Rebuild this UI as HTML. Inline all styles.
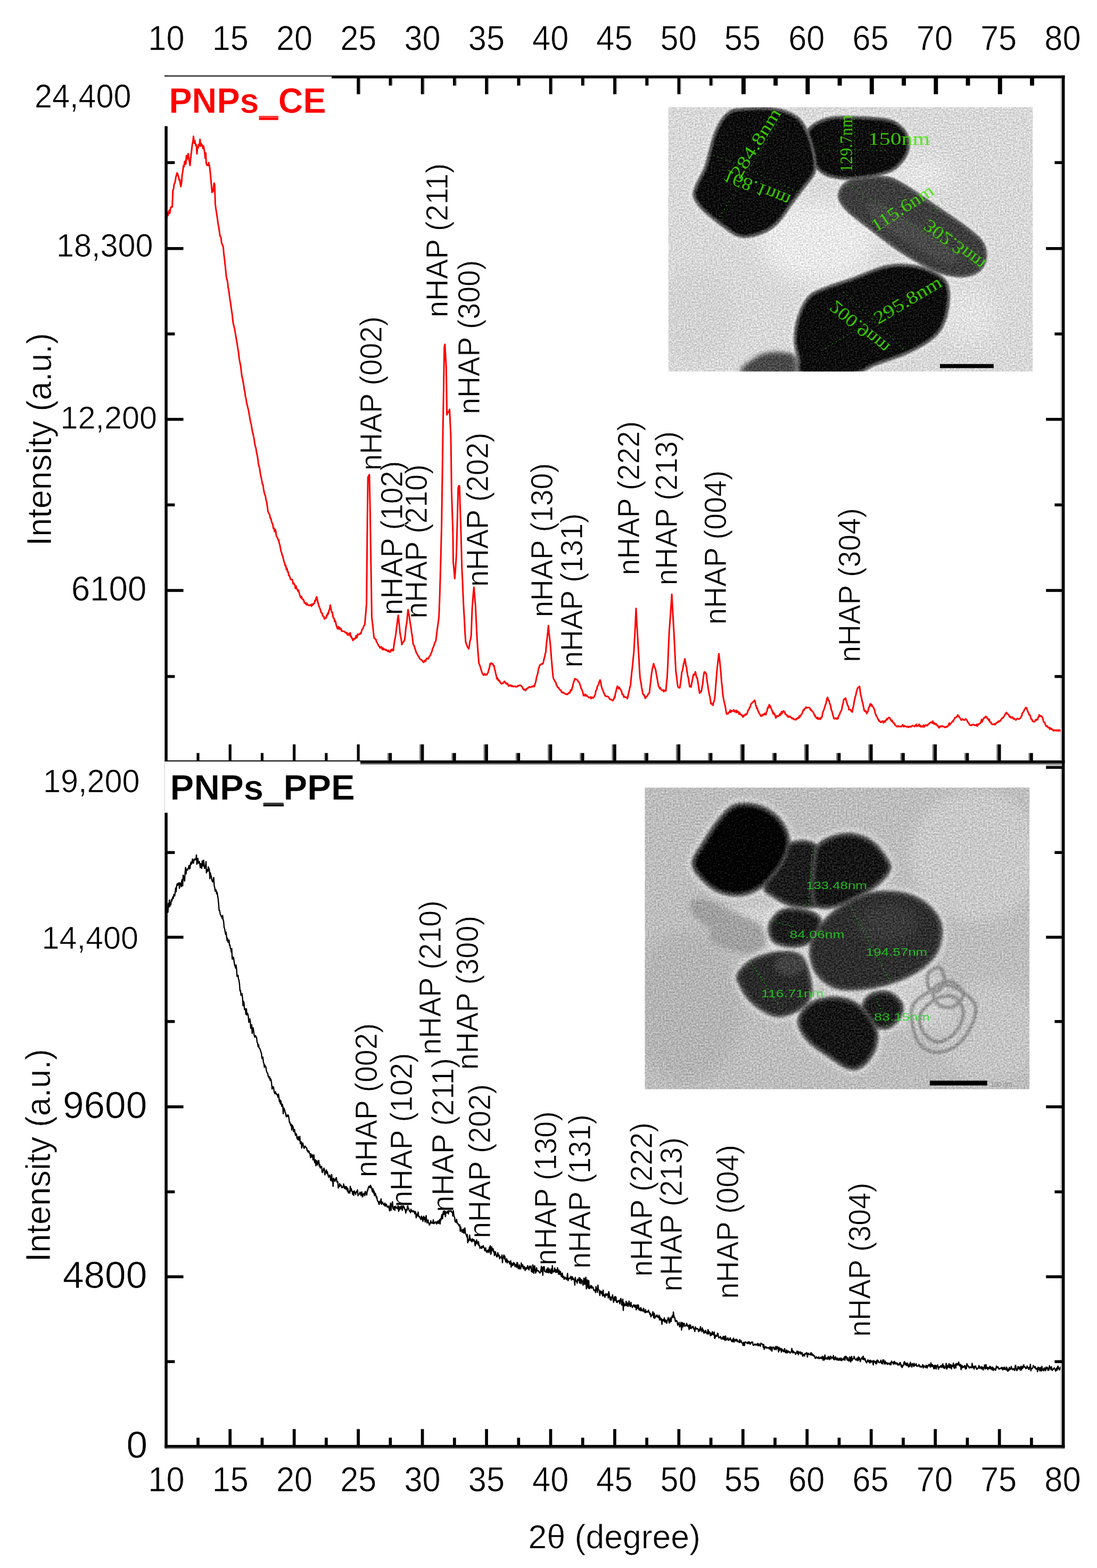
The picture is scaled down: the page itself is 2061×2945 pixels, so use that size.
<!DOCTYPE html>
<html><head><meta charset="utf-8"><title>XRD patterns</title>
<style>html,body{margin:0;padding:0;background:#fff;width:2061px;height:2945px}svg{display:block}</style>
</head><body>
<svg width="2061" height="2945" viewBox="0 0 2061 2945" role="img" aria-label="XRD patterns of PNPs_CE and PNPs_PPE with TEM insets">
<rect width="2061" height="2945" fill="#fff"/>
<defs>
<filter id="b3" x="-20%" y="-20%" width="140%" height="140%"><feGaussianBlur stdDeviation="3"/></filter>
<filter id="b6" x="-20%" y="-20%" width="140%" height="140%"><feGaussianBlur stdDeviation="6"/></filter>
<filter id="b10" x="-30%" y="-30%" width="160%" height="160%"><feGaussianBlur stdDeviation="10"/></filter>
<filter id="b22" x="-40%" y="-40%" width="180%" height="180%"><feGaussianBlur stdDeviation="22"/></filter>
<filter id="b40" x="-60%" y="-60%" width="220%" height="220%"><feGaussianBlur stdDeviation="40"/></filter>
<filter id="grain" x="0" y="0" width="100%" height="100%" color-interpolation-filters="sRGB">
 <feTurbulence type="fractalNoise" baseFrequency="0.15" numOctaves="2" seed="11" result="n"/>
 <feColorMatrix in="n" type="matrix" values="1 0 0 0 0  1 0 0 0 0  1 0 0 0 0  0 0 0 0 1" result="g"/>
 <feComposite in="SourceGraphic" in2="g" operator="arithmetic" k1="0" k2="1" k3="0.40" k4="-0.20"/>
</filter>
<clipPath id="c1"><rect x="35" y="25" width="1528" height="1108"/></clipPath>
<clipPath id="c2"><rect x="35" y="30" width="1528" height="1198"/></clipPath>
</defs>
<g id="tem1" transform="translate(1240 190) scale(0.44805)">
<g clip-path="url(#c1)"><g filter="url(#grain)">
<rect x="-20" y="-20" width="1640" height="1200" fill="#d8d8d8"/>
<ellipse cx="660" cy="590" rx="240" ry="170" fill="#f4f4f4" opacity="0.62" filter="url(#b40)"/>
<ellipse cx="1100" cy="310" rx="110" ry="70" fill="#f0f0f0" opacity="0.6" filter="url(#b40)"/>
<ellipse cx="1300" cy="900" rx="110" ry="120" fill="#ececec" opacity="0.5" filter="url(#b40)"/>
<ellipse cx="150" cy="900" rx="170" ry="200" fill="#d0d0d0" opacity="0.6" filter="url(#b22)"/>
<ellipse cx="1420" cy="200" rx="170" ry="200" fill="#d8d8d8" opacity="0.6" filter="url(#b22)"/>
<path d="M350.0,1140.0 C310.0,1129.2 378.3,1089.7 400.0,1075.0 C421.7,1060.3 450.0,1052.8 480.0,1052.0 C510.0,1051.2 553.3,1055.3 580.0,1070.0 C606.7,1084.7 678.3,1128.3 640.0,1140.0 C601.7,1151.7 390.0,1150.8 350.0,1140.0Z" fill="#4a4a4a" filter="url(#b10)"/>
<path d="M280.0,48.0 C291.7,39.2 291.7,34.0 320.0,30.0 C348.3,26.0 415.3,22.7 450.0,24.0 C484.7,25.3 505.0,30.0 528.0,38.0 C551.0,46.0 572.0,56.7 588.0,72.0 C604.0,87.3 614.2,108.7 624.0,130.0 C633.8,151.3 641.5,177.5 647.0,200.0 C652.5,222.5 657.0,246.3 657.0,265.0 C657.0,283.7 656.2,294.2 647.0,312.0 C637.8,329.8 617.0,352.0 602.0,372.0 C587.0,392.0 573.7,409.5 557.0,432.0 C540.3,454.5 519.8,487.7 502.0,507.0 C484.2,526.3 470.3,537.2 450.0,548.0 C429.7,558.8 401.7,568.8 380.0,572.0 C358.3,575.2 343.3,577.0 320.0,567.0 C296.7,557.0 265.0,531.2 240.0,512.0 C215.0,492.8 187.0,470.7 170.0,452.0 C153.0,433.3 141.7,417.0 138.0,400.0 C134.3,383.0 140.5,370.0 148.0,350.0 C155.5,330.0 173.8,303.3 183.0,280.0 C192.2,256.7 196.3,233.3 203.0,210.0 C209.7,186.7 215.2,161.2 223.0,140.0 C230.8,118.8 240.5,98.3 250.0,83.0 C259.5,67.7 268.3,56.8 280.0,48.0Z" fill="#fff" stroke="#fff" stroke-width="24" opacity="0.3" filter="url(#b10)"/>
<path d="M622.0,112.0 C636.7,93.3 670.3,76.3 700.0,68.0 C729.7,59.7 758.3,61.3 800.0,62.0 C841.7,62.7 914.7,65.3 950.0,72.0 C985.3,78.7 996.3,89.0 1012.0,102.0 C1027.7,115.0 1038.7,131.7 1044.0,150.0 C1049.3,168.3 1049.3,193.0 1044.0,212.0 C1038.7,231.0 1025.7,249.3 1012.0,264.0 C998.3,278.7 989.0,289.7 962.0,300.0 C935.0,310.3 885.3,321.3 850.0,326.0 C814.7,330.7 778.3,331.3 750.0,328.0 C721.7,324.7 699.2,318.2 680.0,306.0 C660.8,293.8 646.3,276.0 635.0,255.0 C623.7,234.0 614.2,203.8 612.0,180.0 C609.8,156.2 607.3,130.7 622.0,112.0Z" fill="#fff" stroke="#fff" stroke-width="24" opacity="0.3" filter="url(#b10)"/>
<path d="M745.0,400.0 C743.3,380.8 755.8,358.3 770.0,345.0 C784.2,331.7 800.0,325.0 830.0,320.0 C860.0,315.0 916.7,310.0 950.0,315.0 C983.3,320.0 996.7,330.8 1030.0,350.0 C1063.3,369.2 1108.3,401.7 1150.0,430.0 C1191.7,458.3 1246.7,495.0 1280.0,520.0 C1313.3,545.0 1334.7,560.0 1350.0,580.0 C1365.3,600.0 1371.2,620.0 1372.0,640.0 C1372.8,660.0 1367.0,684.2 1355.0,700.0 C1343.0,715.8 1322.5,729.2 1300.0,735.0 C1277.5,740.8 1248.3,740.0 1220.0,735.0 C1191.7,730.0 1166.7,722.5 1130.0,705.0 C1093.3,687.5 1041.7,657.5 1000.0,630.0 C958.3,602.5 916.7,568.3 880.0,540.0 C843.3,511.7 802.5,483.3 780.0,460.0 C757.5,436.7 746.7,419.2 745.0,400.0Z" fill="#fff" stroke="#fff" stroke-width="24" opacity="0.3" filter="url(#b10)"/>
<path d="M622.0,815.0 C642.7,794.2 669.8,787.5 700.0,775.0 C730.2,762.5 760.8,754.8 803.0,740.0 C845.2,725.2 906.8,694.7 953.0,686.0 C999.2,677.3 1041.8,680.3 1080.0,688.0 C1118.2,695.7 1159.5,715.0 1182.0,732.0 C1204.5,749.0 1210.3,765.0 1215.0,790.0 C1219.7,815.0 1215.5,854.0 1210.0,882.0 C1204.5,910.0 1195.3,936.7 1182.0,958.0 C1168.7,979.3 1155.3,992.3 1130.0,1010.0 C1104.7,1027.7 1067.8,1047.3 1030.0,1064.0 C992.2,1080.7 940.8,1095.7 903.0,1110.0 C865.2,1124.3 853.5,1143.3 803.0,1150.0 C752.5,1156.7 638.0,1161.7 600.0,1150.0 C562.0,1138.3 581.7,1105.0 575.0,1080.0 C568.3,1055.0 559.8,1030.0 560.0,1000.0 C560.2,970.0 565.7,930.8 576.0,900.0 C586.3,869.2 601.3,835.8 622.0,815.0Z" fill="#fff" stroke="#fff" stroke-width="24" opacity="0.3" filter="url(#b10)"/>
<g filter="url(#b3)"><path d="M751.0,399.5 C749.3,381.7 760.8,361.6 774.1,349.4 C787.4,337.1 801.8,330.7 831.0,325.9 C860.2,321.2 916.4,316.1 949.1,320.9 C981.8,325.8 994.1,336.2 1027.0,355.2 C1059.9,374.2 1105.1,406.7 1146.6,435.0 C1188.2,463.2 1243.3,500.0 1276.4,524.8 C1309.5,549.6 1330.3,564.4 1345.2,583.7 C1360.2,602.9 1365.2,621.5 1366.0,640.2 C1366.8,659.0 1361.5,681.6 1350.2,696.4 C1339.0,711.2 1320.0,723.7 1298.5,729.2 C1277.0,734.6 1248.7,734.0 1221.0,729.1 C1193.4,724.2 1168.9,716.9 1132.6,699.6 C1096.3,682.2 1044.8,652.4 1003.3,625.0 C961.8,597.6 920.2,563.4 883.7,535.3 C847.2,507.1 806.4,478.5 784.3,455.8 C762.2,433.2 752.7,417.2 751.0,399.5Z" fill="#3e3e3e" stroke="#5a5a5a" stroke-width="12" stroke-linejoin="round"/></g>
<path d="M880.0,420.0 C896.7,415.0 955.0,445.0 1000.0,470.0 C1045.0,495.0 1108.3,540.0 1150.0,570.0 C1191.7,600.0 1241.7,631.7 1250.0,650.0 C1258.3,668.3 1233.3,688.3 1200.0,680.0 C1166.7,671.7 1100.0,630.0 1050.0,600.0 C1000.0,570.0 928.3,530.0 900.0,500.0 C871.7,470.0 863.3,425.0 880.0,420.0Z" fill="#555" opacity="0.55" filter="url(#b10)"/>
<g filter="url(#b3)"><path d="M626.7,115.7 C640.7,98.1 672.8,81.7 701.6,73.8 C730.5,65.8 758.7,67.3 799.9,68.0 C841.1,68.7 914.2,71.5 948.9,77.9 C983.6,84.3 993.3,94.3 1008.2,106.6 C1023.1,118.9 1033.2,134.4 1038.2,151.7 C1043.2,169.0 1043.3,192.3 1038.2,210.4 C1033.1,228.4 1020.7,245.9 1007.6,259.9 C994.5,273.9 986.3,284.4 959.9,294.4 C933.5,304.4 884.1,315.4 849.2,320.1 C814.4,324.7 778.4,325.2 750.7,322.0 C723.0,318.9 701.6,312.6 683.2,300.9 C664.8,289.3 651.2,272.4 640.3,252.2 C629.4,231.9 620.2,202.2 618.0,179.5 C615.7,156.7 612.8,133.3 626.7,115.7Z" fill="#0a0a0a" stroke="#555" stroke-width="12" stroke-linejoin="round"/></g>
<g filter="url(#b3)"><path d="M283.6,52.8 C294.6,44.4 293.1,39.7 320.8,35.9 C348.5,32.1 415.6,28.7 449.8,30.0 C484.0,31.3 503.7,35.9 526.0,43.7 C548.4,51.4 568.4,61.5 583.8,76.3 C599.3,91.1 609.0,111.7 618.6,132.5 C628.1,153.4 635.8,179.3 641.2,201.4 C646.6,223.5 650.9,247.0 651.0,265.0 C651.1,283.0 650.6,292.0 641.7,309.3 C632.7,326.5 612.1,348.5 597.2,368.4 C582.3,388.3 568.8,406.0 552.2,428.4 C535.6,450.9 515.1,483.9 497.6,502.9 C480.1,522.0 466.9,532.2 447.2,542.7 C427.4,553.2 399.9,562.9 379.1,566.1 C358.3,569.2 344.9,571.3 322.4,561.5 C299.8,551.7 268.3,526.2 243.7,507.2 C219.0,488.3 191.1,466.0 174.4,448.0 C157.8,429.9 147.3,414.7 143.9,398.7 C140.4,382.8 146.2,371.5 153.6,352.1 C161.1,332.7 179.4,305.6 188.6,282.2 C197.8,258.8 202.1,235.0 208.8,211.6 C215.4,188.3 220.9,163.0 228.6,142.1 C236.3,121.2 245.9,101.0 255.1,86.2 C264.3,71.3 272.7,61.2 283.6,52.8Z" fill="#101010" stroke="#5a5a5a" stroke-width="12" stroke-linejoin="round"/></g>
<g filter="url(#b3)"><path d="M626.3,819.2 C646.4,799.0 672.5,792.8 702.3,780.5 C732.1,768.3 763.0,760.4 805.0,745.7 C847.0,730.9 908.5,700.5 954.1,691.9 C999.7,683.3 1041.4,686.4 1078.8,693.9 C1116.2,701.4 1156.7,720.6 1178.4,736.8 C1200.1,753.0 1204.8,767.1 1209.1,791.1 C1213.4,815.1 1209.5,853.6 1204.1,880.8 C1198.7,908.1 1189.8,934.1 1176.9,954.8 C1164.0,975.5 1151.5,987.8 1126.6,1005.1 C1101.7,1022.4 1065.2,1042.0 1027.6,1058.5 C990.0,1075.1 938.4,1090.1 900.9,1104.4 C863.3,1118.6 852.1,1137.4 802.2,1144.1 C752.4,1150.7 638.7,1155.2 601.8,1144.3 C564.9,1133.3 586.8,1102.5 580.8,1078.5 C574.8,1054.4 565.9,1029.5 566.0,1000.0 C566.1,970.6 571.6,932.0 581.7,901.9 C591.7,871.8 606.2,839.5 626.3,819.2Z" fill="#0b0b0b" stroke="#5a5a5a" stroke-width="12" stroke-linejoin="round"/></g>
</g></g>
<rect x="1174" y="1102" width="225" height="17" fill="#000"/>
<g fill="#40e800" fill-opacity="0.85" stroke="none" font-size="76" font-family="'Liberation Serif', 'Times New Roman', serif">
<text transform="translate(872,182) rotate(0) scale(1,1)" textLength="260" lengthAdjust="spacingAndGlyphs">150nm</text>
<text transform="translate(806,298) rotate(-90) scale(1,1)" textLength="240" lengthAdjust="spacingAndGlyphs">129.7nm</text>
<text transform="translate(335,330) rotate(-58) scale(1,1)" textLength="330" lengthAdjust="spacingAndGlyphs">284.8nm</text>
<text transform="translate(277,285) rotate(22) scale(1,-1)" textLength="297" lengthAdjust="spacingAndGlyphs">168.1nm</text>
<text transform="translate(905,550) rotate(-33) scale(1,1)" textLength="297" lengthAdjust="spacingAndGlyphs">115.6nm</text>
<text transform="translate(1130,492) rotate(37) scale(1,-1)" textLength="300" lengthAdjust="spacingAndGlyphs">302.3nm</text>
<text transform="translate(738,832) rotate(40) scale(1,-1)" textLength="300" lengthAdjust="spacingAndGlyphs">200.9nm</text>
<text transform="translate(915,937) rotate(-31) scale(1,1)" textLength="318" lengthAdjust="spacingAndGlyphs">295.8nm</text>
</g>
<g stroke="#22bb00" stroke-width="3" stroke-dasharray="4 14" fill="none" opacity="0.9">
<line x1="250" y1="485" x2="500" y2="85"/>
<line x1="225" y1="225" x2="580" y2="380"/>
<line x1="690" y1="205" x2="960" y2="205"/>
<line x1="820" y1="330" x2="815" y2="70"/>
<line x1="790" y1="350" x2="1340" y2="700"/>
<line x1="1090" y1="560" x2="1180" y2="420"/>
<line x1="675" y1="1045" x2="1190" y2="740"/>
<line x1="770" y1="800" x2="1020" y2="1040"/>
</g>
</g>
<g id="tem2" transform="translate(1195 1465) scale(0.47293)">
<g clip-path="url(#c2)"><g filter="url(#grain)">
<rect x="-20" y="-20" width="1640" height="1300" fill="#bdbdbd"/>
<ellipse cx="1350" cy="300" rx="260" ry="260" fill="#cbcbcb" opacity="0.9" filter="url(#b22)"/>
<ellipse cx="1400" cy="1000" rx="200" ry="200" fill="#c6c6c6" opacity="0.9" filter="url(#b22)"/>
<ellipse cx="200" cy="900" rx="220" ry="300" fill="#b4b4b4" opacity="0.9" filter="url(#b22)"/>
<ellipse cx="480" cy="580" rx="160" ry="90" fill="#d8d8d8" opacity="0.7" filter="url(#b22)"/>
<ellipse cx="1130" cy="880" rx="110" ry="120" fill="#d4d4d4" opacity="0.7" filter="url(#b22)"/>
<path d="M215.0,490.0 C220.0,478.3 232.5,465.0 260.0,470.0 C287.5,475.0 340.0,501.7 380.0,520.0 C420.0,538.3 476.7,560.0 500.0,580.0 C523.3,600.0 525.0,621.7 520.0,640.0 C515.0,658.3 491.7,683.3 470.0,690.0 C448.3,696.7 418.3,688.3 390.0,680.0 C361.7,671.7 316.7,655.0 300.0,640.0 C283.3,625.0 301.7,606.7 290.0,590.0 C278.3,573.3 242.5,556.7 230.0,540.0 C217.5,523.3 210.0,501.7 215.0,490.0Z" fill="#9a9a9a" opacity="0.85" filter="url(#b10)"/>
<g fill="none" stroke="#7c7c7c" stroke-width="14" opacity="0.7" filter="url(#b3)">
<path d="M1095.0,910.0 C1100.8,880.0 1127.5,865.8 1150.0,850.0 C1172.5,834.2 1203.3,815.0 1230.0,815.0 C1256.7,815.0 1290.0,835.0 1310.0,850.0 C1330.0,865.0 1347.5,881.7 1350.0,905.0 C1352.5,928.3 1339.2,964.2 1325.0,990.0 C1310.8,1015.8 1289.2,1045.0 1265.0,1060.0 C1240.8,1075.0 1205.0,1085.0 1180.0,1080.0 C1155.0,1075.0 1129.2,1058.3 1115.0,1030.0 C1100.8,1001.7 1089.2,940.0 1095.0,910.0Z"/>
<path d="M1160.0,770.0 C1166.7,755.8 1194.2,741.7 1205.0,745.0 C1215.8,748.3 1225.8,774.2 1225.0,790.0 C1224.2,805.8 1210.0,833.3 1200.0,840.0 C1190.0,846.7 1171.7,841.7 1165.0,830.0 C1158.3,818.3 1153.3,784.2 1160.0,770.0Z"/>
<path d="M1130.0,930.0 C1138.3,908.3 1168.3,881.7 1190.0,870.0 C1211.7,858.3 1241.7,851.7 1260.0,860.0 C1278.3,868.3 1298.3,896.7 1300.0,920.0 C1301.7,943.3 1286.7,980.0 1270.0,1000.0 C1253.3,1020.0 1221.7,1040.0 1200.0,1040.0 C1178.3,1040.0 1151.7,1018.3 1140.0,1000.0 C1128.3,981.7 1121.7,951.7 1130.0,930.0Z"/>
<path d="M1180.0,830.0 C1188.3,815.0 1230.0,796.7 1250.0,800.0 C1270.0,803.3 1298.3,833.3 1300.0,850.0 C1301.7,866.7 1276.7,893.3 1260.0,900.0 C1243.3,906.7 1213.3,901.7 1200.0,890.0 C1186.7,878.3 1171.7,845.0 1180.0,830.0Z"/>
</g>
<path d="M220.0,330.0 C220.0,305.0 243.3,278.3 260.0,250.0 C276.7,221.7 300.0,185.0 320.0,160.0 C340.0,135.0 358.3,111.7 380.0,100.0 C401.7,88.3 426.7,88.3 450.0,90.0 C473.3,91.7 498.3,98.3 520.0,110.0 C541.7,121.7 564.7,140.0 580.0,160.0 C595.3,180.0 608.3,206.7 612.0,230.0 C615.7,253.3 610.7,276.7 602.0,300.0 C593.3,323.3 577.0,348.3 560.0,370.0 C543.0,391.7 523.3,414.7 500.0,430.0 C476.7,445.3 448.3,458.7 420.0,462.0 C391.7,465.3 356.7,460.3 330.0,450.0 C303.3,439.7 278.3,420.0 260.0,400.0 C241.7,380.0 220.0,355.0 220.0,330.0Z" fill="#fff" stroke="#fff" stroke-width="30" opacity="0.42" filter="url(#b10)"/>
<path d="M555.0,290.0 C574.2,260.5 594.2,249.7 620.0,243.0 C645.8,236.3 686.7,233.8 710.0,250.0 C733.3,266.2 751.7,306.7 760.0,340.0 C768.3,373.3 766.7,422.5 760.0,450.0 C753.3,477.5 743.3,495.8 720.0,505.0 C696.7,514.2 650.0,511.7 620.0,505.0 C590.0,498.3 559.2,479.2 540.0,465.0 C520.8,450.8 502.5,449.2 505.0,420.0 C507.5,390.8 535.8,319.5 555.0,290.0Z" fill="#fff" stroke="#fff" stroke-width="30" opacity="0.42" filter="url(#b10)"/>
<path d="M715.0,262.0 C728.7,240.3 755.8,228.7 780.0,220.0 C804.2,211.3 833.3,206.7 860.0,210.0 C886.7,213.3 916.7,223.3 940.0,240.0 C963.3,256.7 988.0,290.0 1000.0,310.0 C1012.0,330.0 1018.3,341.7 1012.0,360.0 C1005.7,378.3 980.7,403.3 962.0,420.0 C943.3,436.7 923.7,446.7 900.0,460.0 C876.3,473.3 846.7,491.3 820.0,500.0 C793.3,508.7 760.3,515.3 740.0,512.0 C719.7,508.7 705.0,507.0 698.0,480.0 C691.0,453.0 695.2,386.3 698.0,350.0 C700.8,313.7 701.3,283.7 715.0,262.0Z" fill="#fff" stroke="#fff" stroke-width="30" opacity="0.42" filter="url(#b10)"/>
<path d="M700.0,620.0 C712.0,593.3 733.3,565.0 760.0,540.0 C786.7,515.0 826.7,486.7 860.0,470.0 C893.3,453.3 923.3,443.3 960.0,440.0 C996.7,436.7 1045.0,440.0 1080.0,450.0 C1115.0,460.0 1147.2,478.3 1170.0,500.0 C1192.8,521.7 1211.7,550.0 1217.0,580.0 C1222.3,610.0 1214.8,651.7 1202.0,680.0 C1189.2,708.3 1167.0,729.7 1140.0,750.0 C1113.0,770.3 1076.7,788.3 1040.0,802.0 C1003.3,815.7 960.0,827.0 920.0,832.0 C880.0,837.0 833.3,840.7 800.0,832.0 C766.7,823.3 738.7,802.0 720.0,780.0 C701.3,758.0 691.3,726.7 688.0,700.0 C684.7,673.3 688.0,646.7 700.0,620.0Z" fill="#fff" stroke="#fff" stroke-width="30" opacity="0.42" filter="url(#b10)"/>
<path d="M530.0,560.0 C539.2,543.7 558.3,520.3 580.0,512.0 C601.7,503.7 635.0,505.3 660.0,510.0 C685.0,514.7 718.0,525.0 730.0,540.0 C742.0,555.0 738.7,581.7 732.0,600.0 C725.3,618.3 708.7,638.8 690.0,650.0 C671.3,661.2 643.3,667.0 620.0,667.0 C596.7,667.0 565.8,659.5 550.0,650.0 C534.2,640.5 528.3,625.0 525.0,610.0 C521.7,595.0 520.8,576.3 530.0,560.0Z" fill="#fff" stroke="#fff" stroke-width="30" opacity="0.42" filter="url(#b10)"/>
<path d="M400.0,770.0 C408.3,751.7 433.3,725.0 460.0,710.0 C486.7,695.0 528.3,683.3 560.0,680.0 C591.7,676.7 628.3,676.7 650.0,690.0 C671.7,703.3 681.7,733.3 690.0,760.0 C698.3,786.7 705.0,825.0 700.0,850.0 C695.0,875.0 680.0,894.7 660.0,910.0 C640.0,925.3 603.3,938.7 580.0,942.0 C556.7,945.3 541.7,940.3 520.0,930.0 C498.3,919.7 468.3,898.3 450.0,880.0 C431.7,861.7 418.3,838.3 410.0,820.0 C401.7,801.7 391.7,788.3 400.0,770.0Z" fill="#fff" stroke="#fff" stroke-width="30" opacity="0.42" filter="url(#b10)"/>
<path d="M640.0,960.0 C640.0,935.0 660.0,906.7 680.0,890.0 C700.0,873.3 731.7,863.3 760.0,860.0 C788.3,856.7 823.3,860.0 850.0,870.0 C876.7,880.0 901.3,898.3 920.0,920.0 C938.7,941.7 957.0,973.3 962.0,1000.0 C967.0,1026.7 960.3,1056.3 950.0,1080.0 C939.7,1103.7 918.3,1130.3 900.0,1142.0 C881.7,1153.7 863.3,1157.0 840.0,1150.0 C816.7,1143.0 786.7,1118.3 760.0,1100.0 C733.3,1081.7 700.0,1063.3 680.0,1040.0 C660.0,1016.7 640.0,985.0 640.0,960.0Z" fill="#fff" stroke="#fff" stroke-width="30" opacity="0.42" filter="url(#b10)"/>
<path d="M900.0,880.0 C906.7,865.3 921.7,848.7 940.0,842.0 C958.3,835.3 989.7,832.0 1010.0,840.0 C1030.3,848.0 1055.3,871.7 1062.0,890.0 C1068.7,908.3 1060.3,933.3 1050.0,950.0 C1039.7,966.7 1018.3,985.0 1000.0,990.0 C981.7,995.0 956.7,990.0 940.0,980.0 C923.3,970.0 906.7,946.7 900.0,930.0 C893.3,913.3 893.3,894.7 900.0,880.0Z" fill="#fff" stroke="#fff" stroke-width="30" opacity="0.42" filter="url(#b10)"/>
<g filter="url(#b6)"><path d="M560.9,293.8 C579.2,265.3 597.6,256.1 621.7,249.8 C645.9,243.4 684.1,240.4 706.0,255.8 C727.9,271.1 745.3,309.6 753.2,341.7 C761.1,373.8 759.2,422.2 753.2,448.4 C747.2,474.5 739.4,490.2 717.4,498.5 C695.5,506.8 650.4,504.7 621.5,498.2 C592.6,491.6 562.4,472.3 544.2,459.4 C525.9,446.4 509.2,448.2 512.0,420.6 C514.8,393.0 542.6,322.3 560.9,293.8Z" fill="#1e1e1e" stroke="#484848" stroke-width="14" stroke-linejoin="round"/></g>
<g filter="url(#b6)"><path d="M536.1,563.4 C544.6,548.4 562.1,526.3 582.5,518.5 C602.9,510.8 635.0,512.6 658.7,516.9 C682.4,521.2 713.4,530.9 724.5,544.4 C735.7,557.8 731.8,581.0 725.4,597.6 C719.1,614.2 704.0,633.6 686.4,644.0 C668.8,654.4 642.1,660.0 620.0,660.0 C597.9,660.0 568.3,652.6 553.6,644.0 C538.9,635.4 534.7,621.9 531.8,608.5 C528.9,595.1 527.7,578.4 536.1,563.4Z" fill="#1a1a1a" stroke="#484848" stroke-width="14" stroke-linejoin="round"/></g>
<g filter="url(#b6)"><path d="M406.4,772.9 C414.2,756.1 437.7,730.4 463.4,716.1 C489.2,701.8 530.2,690.3 560.7,687.0 C591.2,683.6 625.9,683.4 646.3,696.0 C666.8,708.5 675.5,736.6 683.3,762.1 C691.1,787.5 697.7,824.9 693.1,848.6 C688.5,872.4 674.8,890.0 655.7,904.4 C636.7,918.9 601.1,931.9 579.0,935.1 C556.9,938.3 543.7,933.7 523.0,923.7 C502.3,913.7 472.7,892.8 454.9,875.1 C437.2,857.3 424.5,834.1 416.4,817.1 C408.3,800.1 398.5,789.7 406.4,772.9Z" fill="#2a2a2a" stroke="#484848" stroke-width="14" stroke-linejoin="round"/></g>
<g filter="url(#b6)"><path d="M906.4,882.9 C912.4,869.8 925.5,854.6 942.4,848.6 C959.2,842.5 988.6,839.2 1007.4,846.5 C1026.3,853.8 1049.3,875.8 1055.4,892.4 C1061.5,909.0 1053.6,931.2 1044.1,946.3 C1034.5,961.5 1014.9,978.6 998.2,983.2 C981.4,987.9 958.9,983.3 943.6,974.0 C928.3,964.7 912.7,942.6 906.5,927.4 C900.3,912.2 900.4,896.0 906.4,882.9Z" fill="#1c1c1c" stroke="#484848" stroke-width="14" stroke-linejoin="round"/></g>
<g filter="url(#b6)"><path d="M720.9,265.7 C733.8,245.1 759.3,234.7 782.4,226.6 C805.4,218.5 833.5,213.8 859.1,216.9 C884.7,220.1 913.5,229.6 935.9,245.7 C958.4,261.8 982.4,294.9 994.0,313.6 C1005.6,332.3 1011.5,340.9 1005.4,357.7 C999.3,374.6 975.5,398.7 957.3,414.8 C939.2,430.8 919.8,440.8 896.6,453.9 C873.3,467.0 843.7,484.8 817.8,493.3 C791.9,501.9 760.0,507.6 741.1,505.1 C722.3,502.6 710.8,504.0 704.8,478.2 C698.8,452.5 702.3,386.0 705.0,350.5 C707.7,315.1 708.0,286.4 720.9,265.7Z" fill="#181818" stroke="#484848" stroke-width="14" stroke-linejoin="round"/></g>
<g filter="url(#b6)"><path d="M706.4,622.9 C718.0,597.2 738.7,569.5 764.8,545.1 C790.9,520.7 830.5,492.6 863.1,476.3 C895.8,459.9 924.8,450.2 960.6,447.0 C996.5,443.7 1044.0,447.0 1078.1,456.7 C1112.2,466.4 1143.2,484.3 1165.2,505.1 C1187.2,525.8 1205.0,552.6 1210.1,581.2 C1215.2,609.9 1208.0,649.9 1195.6,677.1 C1183.2,704.3 1162.1,724.7 1135.8,744.4 C1109.4,764.1 1073.7,782.0 1037.6,795.4 C1001.4,808.9 958.4,820.1 919.1,825.1 C879.8,830.0 834.1,833.5 801.8,825.2 C769.5,817.0 743.1,796.5 725.3,775.5 C707.5,754.5 698.1,724.6 694.9,699.1 C691.8,673.7 694.7,648.5 706.4,622.9Z" fill="#2d2d2d" stroke="#484848" stroke-width="14" stroke-linejoin="round"/></g>
<g filter="url(#b6)"><path d="M647.0,960.0 C646.9,936.7 665.5,910.9 684.5,895.4 C703.5,879.9 733.6,870.1 760.8,867.0 C788.0,863.8 821.9,867.0 847.5,876.6 C873.2,886.2 896.8,903.8 914.7,924.6 C932.6,945.4 950.3,975.9 955.1,1001.3 C959.9,1026.7 953.4,1054.7 943.6,1077.2 C933.8,1099.7 913.2,1125.1 896.2,1136.1 C879.3,1147.1 864.1,1150.3 842.0,1143.3 C820.0,1136.3 790.1,1112.2 764.0,1094.2 C737.8,1076.3 704.8,1057.8 685.3,1035.4 C665.8,1013.1 647.1,983.3 647.0,960.0Z" fill="#141414" stroke="#484848" stroke-width="14" stroke-linejoin="round"/></g>
<g filter="url(#b6)"><path d="M227.0,330.0 C227.1,306.4 249.6,281.2 266.0,253.5 C282.4,225.9 305.9,188.9 325.5,164.4 C345.0,139.8 362.6,117.4 383.3,106.2 C404.0,94.9 427.3,95.3 449.5,97.0 C471.7,98.6 495.9,105.0 516.7,116.2 C537.5,127.4 559.7,145.1 574.4,164.3 C589.2,183.4 601.6,208.9 605.1,231.1 C608.6,253.3 603.9,275.1 595.4,297.6 C587.0,320.0 571.0,344.6 554.5,365.7 C537.9,386.8 518.7,409.3 496.2,424.2 C473.6,439.0 446.5,451.8 419.2,455.0 C391.9,458.3 358.2,453.4 332.5,443.5 C306.9,433.5 282.7,414.2 265.2,395.3 C247.6,376.4 226.9,353.6 227.0,330.0Z" fill="#050505" stroke="#484848" stroke-width="14" stroke-linejoin="round"/></g>
<ellipse cx="610" cy="735" rx="60" ry="42" fill="#6a6a6a" opacity="0.4" filter="url(#b10)"/>
<ellipse cx="1000" cy="570" rx="120" ry="80" fill="#484848" opacity="0.45" filter="url(#b22)"/>
</g></g>
<rect x="1167" y="1194" width="228" height="19" fill="#000"/>
<text x="1408" y="1218" font-size="26" fill="#8a8a8a" font-family="'Liberation Sans', Arial, sans-serif">100 nm</text>
<g fill="#22dd22" fill-opacity="0.82" font-size="44" font-family="'Liberation Sans', Arial, sans-serif">
<text x="675" y="434" textLength="242" lengthAdjust="spacingAndGlyphs">133.48nm</text>
<text x="610" y="627" textLength="218" lengthAdjust="spacingAndGlyphs">84.06nm</text>
<text x="913" y="697" textLength="244" lengthAdjust="spacingAndGlyphs">194.57nm</text>
<text x="497" y="862" textLength="248" lengthAdjust="spacingAndGlyphs">116.71nm</text>
<text x="945" y="955" textLength="222" lengthAdjust="spacingAndGlyphs">83.15nm</text>
</g>
<g stroke="#22bb22" stroke-width="3" stroke-dasharray="5 9" fill="none" opacity="0.85">
<line x1="700" y1="268" x2="685" y2="505"/>
<line x1="850" y1="500" x2="1010" y2="800"/>
<line x1="540" y1="560" x2="625" y2="582"/>
<line x1="455" y1="722" x2="580" y2="915"/>
<line x1="945" y1="840" x2="1000" y2="985"/>
</g>
</g>
<g id="curves">
<polyline points="312.4,408.3 313.5,410.1 314.6,399.8 315.8,404.4 316.9,397.5 318.0,395.1 319.1,400.5 320.2,391.9 321.4,388.9 322.5,389.3 323.6,388.5 324.9,356.9 326.0,355.4 327.1,346.0 328.2,344.4 329.2,340.4 330.3,333.5 331.4,329.1 332.5,324.9 333.6,326.1 334.6,330.1 335.7,333.3 336.7,338.5 337.7,337.2 338.8,345.5 339.8,350.4 341.1,343.0 342.3,328.1 343.6,320.6 344.7,311.2 345.8,313.0 346.9,303.4 348.0,302.6 349.1,308.1 350.2,292.6 351.3,299.8 352.4,294.6 353.5,288.7 354.7,297.2 355.8,303.2 357.0,310.8 358.1,298.1 359.2,288.8 360.2,280.7 361.3,271.2 362.4,266.6 363.5,255.9 364.8,268.7 366.0,264.3 367.0,269.9 368.0,273.2 369.0,271.9 370.0,289.0 371.0,276.3 372.2,278.1 373.5,271.4 374.7,273.4 375.8,261.8 376.9,274.4 378.0,269.4 379.0,273.0 380.1,272.7 381.2,279.0 382.3,274.2 383.4,279.5 384.4,286.4 385.5,297.2 386.5,287.2 387.5,306.8 388.6,310.0 389.6,310.3 390.8,310.7 392.1,305.5 393.3,310.6 394.3,316.9 395.3,326.8 396.3,338.3 397.3,349.8 398.3,361.4 399.3,355.8 400.3,359.5 401.3,349.8 402.3,343.9 403.3,346.8 404.5,384.2 405.6,392.1 406.6,398.2 407.7,405.4 408.8,413.3 409.9,421.5 410.9,426.2 412.0,433.4 413.1,441.9 414.1,444.2 415.2,446.3 416.3,456.5 417.4,458.5 418.4,460.9 419.5,464.5 420.5,476.5 421.5,484.0 422.5,493.1 423.5,502.1 424.5,512.9 425.5,521.9 426.6,525.5 427.6,529.9 428.6,539.7 429.7,544.9 430.7,552.4 431.8,561.2 432.9,567.0 434.0,575.3 435.1,583.6 436.2,589.9 437.3,601.1 438.4,608.6 439.6,612.8 440.8,618.3 441.9,624.6 442.9,629.9 443.9,636.0 445.0,642.9 446.0,648.4 447.1,656.2 448.1,661.3 449.2,671.7 450.3,678.3 451.4,683.4 452.4,688.6 453.5,699.6 454.6,707.7 455.7,710.8 456.8,717.4 457.9,723.5 458.9,731.8 460.0,735.3 461.1,744.8 462.2,748.8 463.3,756.4 464.4,760.4 465.5,765.5 466.6,768.9 467.8,775.7 468.9,782.0 470.0,789.1 471.1,793.9 472.2,797.8 473.3,805.3 474.4,811.8 475.5,815.4 476.6,820.5 477.6,826.1 478.7,833.7 479.8,838.8 480.9,841.9 482.0,849.6 483.1,854.4 484.2,860.1 485.3,869.7 486.4,875.2 487.6,878.8 488.7,886.4 489.8,893.3 490.9,897.6 492.0,903.5 493.1,909.8 494.2,910.6 495.3,919.2 496.4,924.9 497.6,929.4 498.7,931.3 499.8,939.1 500.9,942.1 502.0,949.5 503.6,961.0 504.7,963.5 505.8,964.9 506.9,968.3 508.0,973.9 509.1,974.0 510.2,979.5 511.3,982.7 512.4,984.4 513.5,992.2 514.6,991.5 515.8,998.3 516.9,994.4 518.0,997.3 519.1,1006.0 520.2,1008.7 521.4,1010.3 522.5,1014.0 523.6,1014.1 524.7,1020.4 525.8,1023.8 526.9,1029.4 528.0,1035.4 529.1,1038.1 530.2,1042.8 531.3,1045.1 532.4,1049.7 533.5,1054.8 534.6,1057.1 535.8,1062.6 536.9,1061.9 538.0,1069.6 539.2,1067.7 540.3,1074.1 541.5,1073.9 542.6,1081.0 543.7,1081.3 544.9,1084.7 546.0,1088.3 547.1,1087.8 548.3,1088.9 549.4,1089.1 550.6,1096.5 551.7,1095.1 552.9,1097.1 554.0,1100.0 555.1,1105.2 556.3,1100.8 557.4,1106.0 558.6,1106.8 559.7,1110.2 560.8,1108.4 561.9,1112.9 563.1,1117.1 564.2,1120.4 565.3,1122.6 566.4,1120.6 567.5,1124.2 568.7,1126.1 569.8,1126.0 570.9,1128.1 572.0,1132.6 573.1,1132.5 574.2,1132.6 575.2,1135.7 576.3,1132.7 577.4,1136.0 578.5,1135.9 579.6,1136.6 580.7,1137.3 581.8,1136.4 582.9,1136.3 584.0,1136.0 585.1,1138.6 586.2,1134.5 587.3,1136.5 588.4,1135.5 589.5,1133.6 590.6,1133.1 591.7,1127.8 592.8,1128.7 593.9,1122.9 595.0,1121.0 596.2,1126.5 597.3,1131.5 598.5,1135.8 599.7,1139.9 600.8,1142.2 602.0,1145.1 603.1,1149.8 604.2,1151.5 605.3,1151.6 606.4,1157.0 607.4,1157.9 608.5,1158.0 609.6,1162.6 610.7,1161.7 611.7,1160.5 612.8,1160.6 613.8,1155.2 614.8,1155.9 615.9,1151.5 616.9,1153.0 618.1,1146.3 619.4,1143.7 620.6,1136.6 621.6,1142.1 622.6,1147.8 623.6,1150.4 624.6,1150.0 625.6,1158.2 626.7,1160.9 627.8,1161.6 628.9,1167.4 630.0,1166.0 631.0,1170.5 632.1,1175.3 633.2,1178.4 634.3,1181.2 635.4,1177.8 636.4,1177.2 637.5,1181.6 638.6,1179.1 639.7,1181.9 640.7,1180.6 641.8,1185.2 642.9,1185.4 643.9,1185.6 645.0,1185.3 646.1,1186.0 647.2,1186.0 648.2,1187.8 649.3,1188.2 650.4,1189.0 651.5,1188.0 652.6,1192.4 653.6,1190.1 654.7,1192.5 655.8,1192.8 656.9,1189.5 658.0,1188.6 659.0,1195.9 660.0,1195.3 661.0,1198.4 662.0,1200.0 663.0,1202.9 664.2,1199.8 665.5,1200.7 666.7,1199.1 667.9,1199.0 669.0,1193.8 670.1,1197.9 671.2,1195.8 672.3,1191.1 673.5,1191.5 674.6,1191.6 675.7,1191.3 676.8,1189.0 677.9,1190.1 679.0,1186.5 680.1,1182.9 681.1,1180.8 682.2,1179.9 683.3,1175.9 684.3,1175.0 685.4,1172.7 686.5,1159.8 687.5,1147.8 688.6,1134.0 690.1,985.0 691.2,896.3 692.5,894.3 693.9,891.3 695.2,949.4 696.3,1020.8 697.4,1088.9 698.5,1159.2 699.6,1168.9 700.6,1177.4 701.7,1188.6 702.8,1197.5 703.9,1199.6 705.0,1199.8 706.2,1200.8 707.3,1205.1 708.4,1206.8 709.5,1209.2 710.6,1210.9 711.8,1213.8 712.9,1214.1 714.0,1217.1 715.1,1215.9 716.1,1214.7 717.2,1217.2 718.3,1219.8 719.3,1216.8 720.4,1220.2 721.5,1218.8 722.5,1219.5 723.6,1220.4 724.6,1221.1 725.7,1220.2 726.8,1221.9 727.8,1222.6 728.9,1223.5 730.0,1221.6 731.1,1224.0 732.2,1224.3 733.3,1224.7 734.5,1220.5 735.6,1222.0 736.7,1219.6 737.8,1221.9 738.9,1222.0 740.1,1212.0 741.3,1203.5 742.6,1197.3 743.8,1189.7 744.9,1180.0 746.0,1172.5 747.2,1161.9 748.3,1155.8 749.4,1166.7 750.5,1176.7 751.5,1188.3 752.6,1195.2 753.8,1200.8 755.0,1210.5 756.0,1207.6 757.0,1206.9 758.0,1205.6 759.0,1203.8 760.0,1203.0 761.3,1193.0 762.5,1179.7 763.8,1171.5 764.8,1164.7 765.7,1152.9 766.7,1145.3 767.8,1151.0 769.0,1157.4 770.1,1166.5 771.2,1172.7 772.2,1178.8 773.2,1187.5 774.2,1192.5 775.2,1200.6 776.2,1209.9 777.3,1211.7 778.4,1213.3 779.5,1217.8 780.5,1220.5 781.6,1224.3 782.7,1226.8 783.8,1228.2 784.9,1230.8 786.0,1232.4 787.1,1233.5 788.3,1236.7 789.4,1238.0 790.5,1239.0 791.6,1239.2 792.7,1239.8 793.9,1242.3 795.0,1242.2 796.1,1244.1 797.2,1240.8 798.4,1241.1 799.5,1242.0 800.6,1238.1 801.8,1236.5 802.9,1236.8 804.1,1237.7 805.2,1236.3 806.3,1233.2 807.5,1231.9 808.6,1231.2 809.7,1227.2 810.8,1225.3 811.9,1221.9 813.0,1217.5 814.1,1215.5 815.2,1212.8 816.3,1209.1 817.4,1205.8 818.5,1205.0 819.5,1198.6 820.6,1188.7 821.6,1181.0 822.6,1174.6 823.7,1166.2 824.7,1158.1 826.0,1123.3 827.2,1083.4 828.5,1033.9 829.7,984.3 831.0,894.8 832.2,806.3 833.5,728.9 834.7,651.6 835.9,646.7 837.1,669.0 838.4,690.6 839.6,778.9 840.6,776.0 841.6,774.9 842.6,774.1 843.6,771.2 844.6,768.8 845.8,793.2 847.0,819.0 848.4,923.7 849.6,960.8 850.9,999.4 851.5,1056.0 852.4,1064.2 853.4,1076.5 854.3,1086.7 855.3,1075.4 856.3,1060.0 857.3,1045.6 858.6,1000.4 859.7,958.3 860.8,916.3 862.0,912.5 863.3,912.7 864.6,956.9 866.0,998.4 866.9,1034.4 867.8,1067.7 868.9,1089.5 869.9,1114.7 871.0,1139.1 872.3,1161.2 873.5,1184.6 874.8,1205.2 875.9,1208.8 877.1,1211.8 878.2,1214.8 879.4,1216.6 880.5,1218.7 881.7,1213.5 882.9,1204.3 884.0,1201.3 885.2,1193.7 886.2,1166.6 887.2,1141.4 888.3,1127.0 889.3,1113.9 890.4,1102.9 891.4,1114.5 892.4,1128.2 893.4,1138.4 894.6,1165.3 895.9,1192.9 897.2,1213.4 898.4,1229.0 899.7,1245.7 900.8,1248.1 901.9,1250.8 903.0,1254.6 904.0,1258.1 905.1,1261.7 906.2,1264.5 907.3,1266.3 908.4,1268.1 909.5,1267.5 910.5,1265.5 911.6,1266.6 912.6,1267.8 913.7,1266.6 914.7,1267.1 915.8,1264.8 916.8,1263.8 917.8,1259.7 918.8,1256.0 919.8,1252.9 920.8,1246.5 921.9,1247.1 922.9,1245.3 924.0,1247.0 925.1,1246.4 926.1,1247.6 927.2,1250.7 928.3,1250.2 929.3,1257.4 930.3,1259.6 931.3,1264.8 932.3,1268.3 933.3,1274.7 934.4,1272.7 935.5,1277.1 936.6,1276.6 937.6,1278.9 938.7,1278.8 939.8,1281.6 940.9,1282.8 942.0,1284.4 943.0,1283.7 944.1,1283.6 945.1,1283.5 946.1,1281.5 947.2,1280.2 948.2,1279.6 949.3,1282.6 950.4,1282.2 951.5,1284.6 952.5,1284.3 953.6,1283.9 954.7,1286.9 955.8,1288.8 956.9,1287.3 958.0,1286.7 959.2,1287.0 960.3,1289.2 961.4,1287.8 962.5,1288.2 963.7,1289.6 964.8,1289.1 965.9,1289.4 967.0,1288.9 968.2,1289.1 969.3,1290.2 970.4,1289.7 971.5,1289.7 972.6,1288.0 973.6,1288.4 974.7,1288.0 975.8,1287.1 976.9,1287.1 978.0,1287.1 979.0,1287.9 980.1,1289.4 981.1,1289.9 982.2,1293.0 983.2,1294.2 984.3,1295.7 985.4,1294.5 986.5,1295.5 987.6,1297.1 988.7,1294.3 989.8,1293.3 990.9,1293.1 992.0,1291.5 993.1,1291.7 994.2,1290.3 995.3,1290.0 996.4,1290.7 997.5,1290.5 998.6,1289.9 999.8,1288.8 1000.9,1289.8 1002.0,1288.0 1003.1,1289.8 1004.2,1288.3 1005.2,1284.7 1006.2,1281.6 1007.2,1277.4 1008.2,1271.4 1009.2,1268.5 1010.2,1265.2 1011.2,1259.7 1012.2,1254.3 1013.2,1252.9 1014.2,1248.9 1015.2,1248.8 1016.3,1247.8 1017.3,1247.1 1018.3,1246.6 1019.4,1247.2 1020.4,1245.5 1021.4,1241.4 1022.4,1236.2 1023.4,1233.6 1024.4,1228.0 1025.4,1224.8 1026.6,1209.6 1027.8,1200.0 1029.1,1187.5 1030.3,1175.0 1031.5,1188.9 1032.8,1200.0 1034.0,1211.4 1035.0,1223.0 1036.0,1237.5 1037.0,1248.2 1038.0,1260.1 1039.0,1270.5 1040.1,1275.2 1041.1,1276.9 1042.2,1278.5 1043.3,1281.1 1044.4,1281.9 1045.4,1286.9 1046.5,1287.5 1047.6,1291.0 1048.7,1291.0 1049.8,1292.1 1050.9,1294.6 1052.1,1295.8 1053.2,1295.7 1054.3,1298.2 1055.4,1300.3 1056.5,1300.7 1057.6,1300.0 1058.7,1301.7 1059.8,1301.4 1060.8,1302.4 1061.9,1303.6 1063.0,1303.9 1064.1,1304.3 1065.2,1303.2 1066.3,1304.3 1067.4,1302.5 1068.5,1301.2 1069.6,1300.7 1070.6,1301.5 1071.7,1296.8 1072.8,1295.4 1073.9,1296.8 1074.9,1291.4 1075.9,1290.0 1077.0,1283.8 1078.0,1280.7 1079.0,1278.4 1080.0,1274.8 1081.1,1275.2 1082.2,1276.1 1083.3,1276.3 1084.3,1276.9 1085.4,1278.0 1086.5,1280.5 1087.6,1280.8 1088.7,1283.0 1089.8,1286.3 1090.9,1289.8 1091.9,1293.1 1093.0,1294.7 1094.1,1297.7 1095.2,1301.1 1096.3,1306.6 1097.4,1304.7 1098.5,1306.5 1099.6,1304.1 1100.7,1307.4 1101.8,1305.7 1102.9,1306.7 1104.0,1307.9 1105.1,1309.1 1106.2,1310.2 1107.3,1310.2 1108.4,1309.9 1109.5,1309.1 1110.6,1312.2 1111.8,1309.7 1112.9,1309.8 1114.0,1311.1 1115.1,1309.8 1116.2,1309.2 1117.2,1306.0 1118.3,1304.8 1119.3,1298.6 1120.3,1295.8 1121.4,1294.1 1122.4,1288.8 1123.4,1287.2 1124.4,1286.4 1125.4,1281.7 1126.4,1279.4 1127.4,1277.1 1128.6,1280.8 1129.8,1288.2 1131.0,1293.0 1132.0,1294.8 1133.0,1297.9 1134.0,1300.4 1135.0,1302.3 1136.0,1304.3 1137.1,1306.8 1138.1,1307.8 1139.2,1308.0 1140.3,1308.0 1141.4,1307.8 1142.4,1308.8 1143.5,1309.3 1144.6,1311.5 1145.6,1313.1 1146.7,1313.9 1147.8,1313.6 1148.9,1314.0 1149.9,1315.4 1151.0,1316.1 1152.0,1314.6 1153.0,1313.6 1154.0,1309.3 1155.0,1310.3 1156.0,1303.7 1157.3,1298.7 1158.5,1293.7 1159.8,1288.9 1161.0,1290.4 1162.2,1293.5 1163.5,1291.1 1164.7,1293.7 1165.8,1294.4 1166.8,1297.2 1167.8,1298.1 1168.9,1304.0 1170.0,1303.7 1171.0,1305.3 1172.1,1309.4 1173.1,1308.0 1174.2,1309.2 1175.2,1309.5 1176.3,1309.7 1177.3,1309.9 1178.4,1312.2 1179.4,1309.8 1180.5,1304.1 1181.5,1299.0 1182.5,1296.0 1183.6,1289.4 1184.6,1287.5 1185.6,1275.6 1186.7,1264.4 1187.8,1255.7 1188.8,1245.2 1189.9,1234.0 1190.9,1224.2 1191.9,1205.5 1193.0,1186.3 1194.0,1164.3 1195.0,1142.7 1196.2,1167.4 1197.3,1184.5 1198.4,1203.9 1199.6,1224.5 1200.6,1240.1 1201.5,1258.3 1202.5,1272.4 1203.5,1279.0 1204.5,1283.3 1205.5,1291.8 1206.5,1295.3 1207.5,1302.2 1208.7,1305.0 1210.0,1304.7 1211.2,1308.3 1212.4,1311.8 1213.5,1309.6 1214.6,1308.0 1215.7,1307.6 1216.7,1306.3 1217.8,1303.2 1218.9,1302.3 1220.0,1301.7 1221.2,1290.7 1222.5,1280.1 1223.7,1268.2 1224.9,1260.8 1225.9,1254.5 1227.0,1250.9 1228.0,1246.4 1229.1,1250.1 1230.2,1253.9 1231.3,1256.4 1232.4,1261.4 1233.6,1269.2 1234.8,1275.3 1236.1,1282.6 1237.3,1289.2 1238.4,1290.0 1239.4,1293.2 1240.5,1291.7 1241.6,1294.1 1242.7,1296.0 1243.7,1296.5 1244.8,1296.3 1245.8,1296.2 1246.9,1299.1 1247.9,1296.4 1248.9,1297.4 1250.0,1298.0 1251.0,1297.5 1252.2,1283.7 1253.5,1271.7 1254.8,1244.7 1256.0,1214.9 1257.3,1186.4 1258.5,1169.6 1259.8,1152.5 1261.0,1133.7 1262.2,1116.2 1263.5,1141.9 1264.7,1163.1 1266.0,1185.4 1267.2,1209.3 1268.5,1236.8 1269.7,1259.6 1270.9,1269.1 1272.2,1280.1 1273.4,1289.0 1274.7,1291.4 1275.9,1291.5 1277.2,1291.9 1278.4,1283.5 1279.7,1273.9 1280.9,1263.1 1282.0,1259.6 1283.2,1253.8 1284.3,1247.0 1285.5,1243.5 1286.6,1237.5 1287.7,1243.0 1288.8,1250.6 1289.8,1253.3 1290.9,1262.1 1292.1,1269.4 1293.3,1273.3 1294.6,1282.5 1295.8,1289.8 1297.0,1289.3 1298.3,1290.4 1299.5,1283.4 1300.8,1277.7 1302.0,1270.4 1303.1,1266.6 1304.2,1268.1 1305.4,1265.7 1306.5,1261.7 1307.6,1267.6 1308.7,1272.9 1309.7,1273.0 1310.8,1278.4 1312.0,1286.1 1313.3,1295.1 1314.5,1302.1 1315.7,1298.7 1317.0,1299.5 1318.2,1295.6 1319.2,1289.8 1320.2,1284.5 1321.2,1274.2 1322.2,1267.5 1323.2,1262.0 1324.4,1262.2 1325.7,1264.2 1326.9,1265.0 1328.2,1277.6 1329.4,1284.8 1330.7,1294.1 1331.7,1299.3 1332.7,1305.0 1333.7,1308.3 1334.7,1315.2 1335.7,1321.8 1336.9,1320.9 1338.2,1323.6 1339.4,1324.7 1340.6,1318.8 1341.8,1316.7 1343.0,1309.4 1344.0,1297.1 1345.0,1283.9 1345.9,1273.0 1346.9,1260.7 1348.1,1248.9 1349.4,1237.2 1350.6,1227.8 1351.8,1238.5 1353.1,1250.9 1354.3,1262.5 1355.5,1279.1 1356.8,1290.3 1358.0,1304.6 1359.1,1311.2 1360.1,1316.3 1361.2,1321.0 1362.3,1325.3 1363.4,1331.8 1364.4,1337.9 1365.5,1341.2 1366.6,1340.0 1367.7,1340.8 1368.8,1338.3 1369.8,1337.5 1370.9,1337.5 1372.0,1333.8 1373.1,1337.7 1374.2,1334.7 1375.3,1335.4 1376.4,1335.2 1377.5,1335.3 1378.6,1333.3 1379.7,1336.8 1380.8,1335.4 1381.9,1335.1 1383.0,1338.3 1384.1,1334.3 1385.3,1337.5 1386.4,1337.5 1387.5,1336.9 1388.7,1341.6 1389.8,1338.7 1390.9,1341.5 1392.1,1342.2 1393.2,1343.4 1394.3,1343.1 1395.5,1346.6 1396.6,1346.3 1397.7,1343.7 1398.7,1342.9 1399.8,1343.6 1400.8,1341.2 1401.9,1342.1 1402.9,1341.1 1404.0,1339.2 1405.1,1335.0 1406.2,1333.0 1407.3,1332.1 1408.3,1328.5 1409.4,1328.4 1410.5,1323.2 1411.6,1321.4 1412.6,1320.7 1413.7,1319.1 1414.7,1318.3 1415.7,1318.1 1416.8,1315.8 1417.8,1315.3 1418.8,1318.2 1419.8,1324.6 1420.8,1326.3 1421.8,1330.7 1422.8,1330.2 1423.8,1334.8 1424.9,1336.0 1425.9,1339.1 1426.9,1340.5 1428.0,1341.7 1429.0,1344.4 1430.1,1345.1 1431.2,1344.8 1432.3,1342.5 1433.4,1343.7 1434.6,1341.3 1435.7,1342.1 1436.8,1339.9 1437.9,1341.5 1439.0,1342.4 1440.0,1336.8 1441.1,1335.8 1442.1,1330.1 1443.1,1328.3 1444.2,1329.2 1445.2,1323.5 1446.2,1326.2 1447.3,1325.9 1448.3,1329.8 1449.3,1331.0 1450.4,1335.3 1451.4,1335.4 1452.4,1340.7 1453.5,1338.5 1454.5,1342.0 1455.5,1341.3 1456.6,1344.9 1457.6,1348.5 1458.7,1346.4 1459.7,1344.4 1460.8,1345.6 1461.8,1345.5 1462.9,1344.2 1463.9,1344.1 1465.0,1340.7 1466.0,1343.3 1467.1,1341.0 1468.2,1336.8 1469.2,1340.2 1470.2,1336.5 1471.3,1336.6 1472.4,1335.1 1473.4,1337.8 1474.5,1337.7 1475.6,1341.9 1476.7,1342.0 1477.7,1342.4 1478.8,1344.3 1479.9,1346.4 1481.0,1344.8 1482.1,1346.7 1483.2,1345.3 1484.2,1345.2 1485.3,1347.0 1486.4,1347.7 1487.5,1348.6 1488.6,1350.0 1489.7,1348.9 1490.8,1349.5 1491.8,1351.2 1492.9,1351.3 1494.0,1351.2 1495.1,1352.0 1496.2,1349.8 1497.3,1350.5 1498.4,1348.3 1499.5,1348.6 1500.6,1348.8 1501.6,1344.9 1502.7,1346.7 1503.8,1344.0 1504.9,1343.3 1506.0,1341.0 1507.0,1340.4 1508.1,1336.9 1509.2,1333.4 1510.3,1334.1 1511.3,1331.6 1512.4,1330.5 1513.5,1330.3 1514.5,1328.1 1515.6,1329.5 1516.6,1329.2 1517.7,1328.9 1518.7,1328.9 1519.8,1328.9 1520.9,1329.4 1522.0,1331.2 1523.1,1333.9 1524.2,1333.0 1525.3,1335.5 1526.4,1335.9 1527.5,1337.2 1528.6,1339.3 1529.7,1341.6 1530.7,1344.7 1531.8,1344.4 1532.8,1347.2 1533.9,1348.4 1534.9,1349.5 1536.0,1347.6 1537.1,1350.8 1538.1,1350.3 1539.2,1348.8 1540.3,1349.7 1541.4,1350.8 1542.4,1347.6 1543.5,1347.9 1544.5,1345.7 1545.6,1339.0 1546.6,1336.1 1547.6,1333.8 1548.7,1330.8 1549.7,1327.3 1550.7,1323.6 1551.7,1322.1 1552.7,1316.8 1553.7,1311.7 1554.7,1309.7 1555.7,1313.3 1556.7,1315.8 1557.7,1316.0 1558.7,1321.3 1559.7,1322.7 1560.7,1327.3 1561.8,1333.1 1562.8,1335.2 1563.8,1338.6 1564.9,1343.1 1565.9,1346.5 1567.0,1350.0 1568.0,1349.2 1569.1,1349.8 1570.2,1348.6 1571.3,1349.2 1572.3,1350.7 1573.4,1348.6 1574.5,1349.6 1575.5,1344.6 1576.6,1343.6 1577.6,1341.4 1578.7,1337.6 1579.7,1336.4 1580.8,1334.3 1581.8,1330.7 1582.9,1324.2 1584.0,1320.9 1585.0,1314.5 1586.2,1313.0 1587.5,1313.3 1588.7,1311.0 1589.7,1315.1 1590.8,1318.9 1591.8,1322.8 1592.8,1325.2 1593.9,1326.6 1594.9,1332.9 1596.0,1332.5 1597.0,1332.8 1598.1,1333.1 1599.1,1335.5 1600.2,1336.0 1601.2,1337.3 1602.4,1330.1 1603.6,1325.7 1604.8,1317.5 1606.0,1312.1 1607.0,1308.1 1608.0,1305.3 1609.0,1299.7 1610.0,1296.4 1611.0,1292.8 1612.3,1291.4 1613.5,1290.5 1614.8,1289.1 1616.1,1298.3 1617.3,1306.2 1618.6,1310.5 1619.6,1316.9 1620.6,1319.3 1621.6,1324.1 1622.6,1329.2 1623.6,1334.1 1624.8,1336.0 1626.0,1334.9 1627.3,1337.1 1628.5,1340.1 1629.5,1337.0 1630.5,1336.9 1631.5,1331.6 1632.5,1328.5 1633.5,1327.8 1634.7,1322.3 1635.8,1322.0 1637.0,1325.8 1638.0,1323.9 1639.0,1326.4 1640.0,1327.8 1641.0,1328.8 1642.0,1331.3 1643.1,1333.1 1644.1,1338.7 1645.2,1341.6 1646.3,1344.6 1647.3,1345.9 1648.4,1347.9 1649.4,1350.7 1650.4,1351.3 1651.4,1354.3 1652.4,1353.3 1653.4,1355.4 1654.5,1356.4 1655.6,1356.5 1656.6,1356.0 1657.7,1354.3 1658.8,1354.8 1659.8,1357.5 1660.9,1356.2 1662.0,1354.1 1663.1,1356.0 1664.2,1352.8 1665.3,1351.9 1666.3,1349.9 1667.4,1351.4 1668.5,1348.9 1669.6,1347.6 1670.6,1347.7 1671.7,1348.4 1672.7,1351.0 1673.7,1351.8 1674.8,1354.6 1675.8,1352.9 1676.9,1354.7 1678.0,1357.5 1679.1,1358.5 1680.2,1358.1 1681.2,1361.7 1682.3,1361.8 1683.4,1363.5 1684.5,1364.2 1685.6,1364.9 1686.8,1363.3 1687.9,1363.6 1689.0,1365.0 1690.2,1364.2 1691.3,1364.2 1692.5,1365.0 1693.6,1364.1 1694.7,1364.2 1695.9,1361.4 1697.0,1363.2 1698.1,1364.8 1699.3,1363.0 1700.4,1363.8 1701.5,1364.5 1702.6,1364.2 1703.8,1365.4 1704.9,1365.1 1706.0,1364.5 1707.1,1366.0 1708.3,1364.5 1709.4,1364.2 1710.5,1365.1 1711.6,1365.2 1712.7,1364.0 1713.8,1362.7 1715.0,1363.1 1716.1,1363.6 1717.2,1363.9 1718.3,1364.8 1719.4,1362.4 1720.5,1362.4 1721.5,1360.4 1722.6,1364.3 1723.7,1363.9 1724.7,1363.0 1725.8,1362.3 1726.8,1360.3 1727.9,1364.1 1729.0,1362.5 1730.0,1365.1 1731.1,1364.4 1732.2,1365.0 1733.2,1363.6 1734.3,1365.1 1735.4,1362.1 1736.5,1365.1 1737.6,1363.3 1738.7,1361.9 1739.7,1362.6 1740.8,1361.8 1741.9,1363.0 1743.0,1361.8 1744.0,1359.9 1745.1,1359.7 1746.2,1358.5 1747.2,1357.8 1748.2,1357.0 1749.3,1356.4 1750.4,1356.2 1751.4,1358.2 1752.5,1354.4 1753.5,1357.8 1754.6,1359.6 1755.6,1357.8 1756.7,1359.8 1757.8,1360.9 1758.9,1359.5 1760.0,1361.2 1761.1,1363.2 1762.1,1362.8 1763.2,1365.4 1764.3,1367.0 1765.4,1364.9 1766.5,1363.7 1767.7,1365.0 1768.8,1364.4 1769.9,1363.4 1771.1,1364.6 1772.2,1364.5 1773.3,1364.6 1774.5,1366.0 1775.6,1366.2 1776.7,1365.4 1777.9,1364.6 1779.0,1365.5 1780.1,1364.1 1781.2,1363.5 1782.3,1361.3 1783.3,1358.1 1784.4,1361.6 1785.5,1359.1 1786.6,1358.3 1787.7,1357.5 1788.7,1356.0 1789.8,1354.3 1790.8,1354.9 1791.9,1351.9 1792.9,1350.6 1794.0,1347.9 1795.1,1347.8 1796.2,1347.4 1797.3,1345.8 1798.4,1345.3 1799.5,1342.9 1800.7,1345.8 1801.8,1345.8 1803.0,1347.9 1804.1,1349.1 1805.3,1351.6 1806.4,1352.6 1807.5,1351.7 1808.6,1350.4 1809.7,1351.5 1810.8,1352.5 1811.9,1352.2 1813.0,1351.9 1814.1,1350.2 1815.2,1350.8 1816.3,1352.3 1817.3,1354.1 1818.4,1356.5 1819.5,1357.8 1820.6,1359.0 1821.6,1361.6 1822.7,1361.8 1823.8,1362.2 1824.9,1362.6 1825.9,1360.9 1827.0,1361.3 1828.1,1360.7 1829.2,1361.0 1830.3,1361.9 1831.3,1361.8 1832.4,1362.3 1833.5,1362.2 1834.6,1360.5 1835.7,1363.7 1836.7,1363.0 1837.8,1360.1 1838.9,1360.6 1840.0,1359.4 1841.0,1358.8 1842.1,1357.8 1843.1,1355.7 1844.2,1351.4 1845.2,1356.0 1846.3,1352.3 1847.3,1351.2 1848.4,1348.4 1849.4,1348.3 1850.5,1348.1 1851.5,1345.5 1852.6,1346.2 1853.8,1346.7 1855.0,1349.9 1856.3,1349.9 1857.5,1353.0 1858.5,1351.1 1859.6,1355.8 1860.7,1356.2 1861.7,1356.7 1862.8,1359.7 1863.8,1359.7 1864.9,1360.5 1865.9,1360.3 1867.0,1360.1 1868.1,1361.0 1869.1,1359.7 1870.2,1360.6 1871.2,1358.3 1872.3,1357.3 1873.4,1357.2 1874.4,1356.4 1875.5,1354.7 1876.6,1355.9 1877.6,1354.1 1878.7,1354.7 1879.7,1353.2 1880.8,1351.5 1881.8,1349.5 1882.8,1349.4 1883.9,1347.8 1884.9,1347.9 1885.9,1345.9 1886.9,1345.0 1888.0,1342.2 1889.0,1341.1 1890.0,1338.9 1891.0,1338.0 1892.1,1340.8 1893.2,1340.9 1894.3,1342.0 1895.3,1342.6 1896.4,1346.0 1897.5,1345.3 1898.6,1347.6 1899.7,1346.9 1900.8,1348.5 1901.9,1347.0 1903.0,1347.2 1904.2,1350.4 1905.3,1349.4 1906.4,1350.6 1907.5,1351.8 1908.6,1352.2 1909.7,1351.4 1910.8,1349.5 1911.9,1349.7 1912.9,1350.2 1914.0,1350.5 1915.1,1350.1 1916.2,1349.6 1917.3,1348.1 1918.3,1346.4 1919.4,1345.0 1920.4,1340.5 1921.4,1338.3 1922.5,1337.5 1923.5,1335.7 1924.6,1333.2 1925.8,1331.5 1926.9,1329.2 1928.0,1328.9 1929.1,1330.6 1930.2,1334.1 1931.3,1337.2 1932.4,1339.4 1933.5,1342.8 1934.6,1342.4 1935.6,1344.3 1936.7,1349.3 1937.7,1351.1 1938.8,1351.1 1939.8,1354.4 1940.9,1355.2 1942.0,1355.7 1943.0,1355.3 1944.1,1355.3 1945.2,1352.5 1946.3,1351.4 1947.3,1352.7 1948.4,1351.0 1949.4,1351.5 1950.5,1347.3 1951.5,1346.3 1952.5,1342.6 1953.6,1345.4 1954.6,1344.2 1955.6,1344.9 1956.6,1345.8 1957.6,1345.7 1958.6,1348.2 1959.6,1350.8 1960.6,1355.6 1961.7,1356.5 1962.7,1356.9 1963.7,1360.1 1964.8,1362.3 1965.8,1364.4 1966.9,1363.3 1968.0,1364.4 1969.1,1366.6 1970.2,1366.8 1971.3,1366.2 1972.4,1369.8 1973.4,1368.0 1974.5,1367.8 1975.6,1369.8 1976.7,1370.2 1977.8,1369.8 1978.9,1372.4 1980.0,1372.2 1981.1,1371.2 1982.1,1372.1 1983.2,1372.2 1984.3,1371.3 1985.4,1372.5 1986.4,1371.3 1987.5,1371.7 1988.6,1372.9 1989.6,1370.9 1990.7,1372.1 1991.8,1371.5 1992.9,1373.5 1993.9,1372.2 1995.0,1375.0" fill="none" stroke="#ff0000" stroke-width="3.0" stroke-linejoin="round" stroke-linecap="butt"/>
<polyline points="313.7,1711.4 314.6,1708.3 315.5,1713.5 316.4,1696.6 317.3,1703.3 318.2,1690.4 319.1,1702.7 320.0,1695.3 320.9,1699.4 321.9,1689.6 322.8,1692.5 323.7,1688.1 324.6,1684.8 325.5,1687.6 326.5,1680.0 327.4,1682.9 328.3,1682.7 329.2,1674.8 330.1,1667.6 331.0,1674.6 331.9,1664.0 332.7,1660.3 333.6,1662.9 334.5,1659.0 335.3,1658.9 336.2,1658.3 337.1,1668.5 338.0,1658.5 338.8,1658.5 339.7,1660.0 340.6,1665.4 341.4,1654.3 342.3,1651.7 343.2,1663.9 344.1,1643.8 345.0,1646.7 345.9,1649.4 346.8,1654.8 347.8,1637.9 348.7,1629.1 349.6,1641.2 350.5,1633.7 351.4,1632.3 352.3,1634.1 353.2,1631.5 354.1,1630.3 355.1,1625.4 356.0,1631.8 356.9,1631.2 357.9,1622.9 358.8,1619.2 359.7,1623.1 360.6,1621.1 361.6,1613.4 362.5,1615.3 363.4,1621.4 364.4,1615.4 365.3,1613.5 366.3,1615.3 367.2,1613.3 368.1,1614.1 369.0,1605.7 369.9,1623.2 370.8,1616.7 371.7,1612.3 372.7,1621.4 373.6,1618.9 374.5,1618.1 375.4,1623.4 376.3,1629.5 377.2,1622.2 378.1,1627.7 379.0,1631.0 379.9,1617.0 380.8,1619.9 381.7,1626.6 382.5,1615.8 383.4,1623.1 384.3,1631.0 385.2,1630.5 386.1,1629.0 387.0,1618.3 387.9,1639.6 388.8,1633.2 389.7,1636.0 390.6,1636.5 391.5,1628.2 392.5,1631.3 393.4,1634.1 394.3,1650.4 395.2,1639.5 396.1,1644.1 397.0,1645.8 397.9,1652.4 398.8,1654.8 399.7,1656.4 400.6,1652.9 401.5,1648.1 402.5,1664.0 403.4,1667.2 404.3,1673.7 405.2,1671.1 406.1,1671.8 407.0,1678.6 407.9,1675.8 408.9,1682.8 409.8,1687.9 410.8,1698.1 411.7,1710.2 412.6,1709.9 413.6,1716.4 414.5,1717.8 415.4,1721.0 416.4,1721.2 417.3,1725.0 418.2,1719.5 419.2,1727.6 420.1,1730.3 421.1,1741.9 422.0,1744.4 422.9,1749.7 423.9,1754.7 424.8,1750.7 425.7,1759.6 426.6,1766.6 427.5,1762.1 428.5,1769.9 429.4,1768.3 430.3,1765.5 431.1,1775.5 432.0,1774.7 432.8,1781.4 433.7,1782.1 434.6,1788.3 435.4,1781.5 436.3,1801.3 437.1,1801.4 438.0,1797.6 438.9,1798.9 439.8,1806.1 440.7,1812.3 441.7,1814.9 442.6,1818.3 443.5,1812.4 444.4,1819.3 445.3,1833.8 446.2,1834.1 447.2,1831.7 448.1,1838.9 449.0,1841.3 449.9,1847.6 450.9,1861.1 451.8,1860.1 452.7,1869.3 453.7,1869.3 454.6,1866.2 455.6,1873.4 456.5,1889.0 457.4,1880.4 458.4,1883.0 459.3,1896.0 460.2,1894.1 461.1,1896.4 462.0,1905.2 462.9,1894.7 463.8,1906.3 464.8,1903.1 465.7,1904.4 466.6,1909.5 467.5,1920.2 468.4,1917.7 469.3,1913.5 470.2,1918.5 471.1,1931.3 472.0,1931.3 472.9,1924.7 473.8,1941.0 474.7,1931.7 475.6,1930.3 476.5,1936.7 477.4,1943.1 478.3,1947.9 479.2,1947.5 480.1,1945.1 481.1,1948.2 482.0,1948.1 483.0,1957.3 483.9,1958.8 484.9,1965.8 485.8,1962.2 486.7,1967.9 487.6,1969.0 488.5,1970.3 489.4,1973.0 490.3,1976.2 491.2,1978.2 492.1,1987.9 493.0,1988.6 493.9,1985.4 494.9,1995.5 495.8,1997.2 496.7,2004.6 497.6,2000.4 498.5,2002.9 499.4,2003.6 500.3,2009.5 501.2,2013.6 502.1,2014.9 503.0,2015.8 503.9,2021.7 504.8,2022.4 505.7,2025.1 506.6,2022.4 507.5,2029.1 508.5,2026.3 509.4,2029.0 510.3,2035.3 511.2,2045.3 512.1,2042.9 513.0,2040.9 514.0,2042.3 514.9,2049.1 515.8,2052.9 516.7,2054.3 517.6,2050.6 518.5,2054.3 519.5,2054.3 520.4,2056.5 521.3,2056.3 522.2,2060.9 523.1,2054.9 524.0,2060.6 524.9,2069.1 525.8,2065.3 526.7,2073.2 527.6,2067.5 528.5,2073.1 529.4,2078.0 530.3,2073.9 531.2,2077.1 532.1,2091.9 533.0,2080.8 533.9,2082.5 534.8,2084.9 535.7,2089.2 536.6,2090.7 537.5,2096.7 538.4,2097.7 539.3,2094.6 540.2,2096.6 541.1,2094.1 542.0,2095.6 542.9,2100.4 543.8,2108.2 544.6,2107.4 545.5,2111.9 546.4,2114.3 547.3,2111.5 548.2,2122.5 549.0,2113.5 549.9,2114.8 550.8,2117.3 551.7,2125.5 552.6,2122.0 553.4,2121.3 554.3,2127.8 555.2,2132.4 556.1,2129.1 557.0,2130.2 557.8,2137.5 558.7,2138.8 559.6,2140.4 560.5,2134.7 561.4,2140.3 562.3,2141.9 563.3,2134.4 564.2,2148.0 565.1,2144.8 566.0,2144.3 566.9,2156.2 567.8,2148.9 568.8,2146.7 569.7,2150.7 570.6,2154.5 571.5,2156.9 572.4,2154.6 573.3,2152.6 574.3,2154.6 575.2,2155.4 576.1,2155.8 577.0,2161.3 577.9,2160.6 578.8,2164.0 579.7,2161.6 580.7,2162.6 581.6,2166.5 582.5,2167.0 583.4,2174.4 584.3,2167.1 585.2,2172.9 586.2,2173.0 587.1,2169.0 588.0,2178.5 588.9,2177.4 589.8,2169.3 590.7,2181.5 591.7,2184.1 592.6,2178.2 593.5,2189.5 594.4,2184.4 595.3,2180.0 596.2,2187.9 597.1,2185.0 598.0,2181.9 598.9,2179.5 599.8,2190.1 600.7,2187.0 601.6,2193.5 602.5,2193.4 603.4,2190.6 604.3,2191.4 605.2,2201.7 606.0,2202.3 606.9,2199.3 607.8,2195.7 608.7,2194.0 609.6,2197.3 610.5,2206.6 611.4,2202.6 612.3,2200.4 613.2,2197.4 614.1,2204.0 615.0,2200.6 615.9,2205.2 616.8,2209.0 617.7,2211.2 618.6,2208.2 619.5,2207.0 620.4,2210.1 621.3,2217.3 622.2,2212.3 623.1,2205.9 624.0,2218.7 624.9,2214.2 625.8,2228.2 626.7,2212.9 627.6,2215.2 628.4,2215.2 629.3,2218.7 630.2,2215.6 631.1,2212.8 632.0,2211.8 632.9,2219.9 633.8,2219.1 634.7,2219.6 635.6,2231.4 636.5,2226.8 637.4,2228.8 638.3,2223.2 639.2,2227.2 640.1,2225.7 641.0,2226.2 641.9,2230.6 642.8,2230.5 643.7,2229.8 644.6,2229.7 645.5,2223.8 646.4,2227.1 647.3,2232.2 648.2,2229.7 649.1,2228.5 650.0,2233.7 650.9,2229.0 651.8,2230.5 652.7,2237.4 653.6,2232.8 654.5,2240.6 655.4,2237.4 656.3,2239.1 657.2,2241.0 658.1,2228.1 659.0,2237.1 659.9,2232.4 660.8,2236.0 661.7,2237.6 662.6,2243.3 663.5,2238.3 664.5,2245.4 665.4,2236.8 666.3,2239.0 667.2,2239.8 668.1,2243.5 669.0,2239.6 669.9,2237.6 670.8,2239.0 671.7,2234.8 672.6,2245.8 673.5,2244.0 674.5,2242.9 675.4,2242.5 676.3,2239.2 677.2,2240.2 678.1,2245.4 679.0,2239.1 679.9,2238.8 680.8,2248.0 681.7,2247.6 682.6,2242.1 683.5,2242.8 684.5,2241.0 685.4,2245.7 686.3,2237.8 687.2,2239.6 688.1,2240.9 689.0,2244.4 689.9,2236.0 690.8,2236.3 691.7,2231.8 692.5,2229.6 693.4,2228.0 694.3,2229.3 695.2,2231.0 696.1,2226.3 697.1,2228.4 698.0,2230.9 699.0,2235.6 699.9,2238.7 700.8,2232.6 701.8,2240.7 702.7,2237.0 703.6,2245.6 704.4,2240.6 705.3,2241.9 706.2,2245.1 707.0,2249.5 707.9,2247.5 708.8,2254.1 709.7,2255.6 710.5,2257.1 711.4,2259.6 712.3,2262.3 713.2,2256.2 714.1,2259.4 715.0,2259.6 715.9,2251.7 716.8,2261.9 717.7,2257.5 718.6,2258.0 719.5,2259.4 720.4,2261.9 721.3,2263.1 722.2,2264.0 723.0,2259.6 723.9,2265.5 724.8,2264.7 725.7,2261.7 726.6,2263.5 727.5,2267.1 728.4,2265.9 729.3,2267.3 730.2,2265.2 731.1,2269.7 732.0,2274.3 732.9,2267.5 733.8,2259.6 734.7,2273.1 735.6,2264.1 736.5,2261.0 737.4,2257.2 738.2,2268.6 739.1,2271.5 740.0,2271.3 740.9,2265.9 741.8,2273.4 742.7,2267.5 743.6,2265.6 744.5,2268.4 745.4,2269.2 746.2,2268.7 747.1,2270.3 748.0,2260.1 748.9,2275.3 749.8,2266.9 750.7,2272.0 751.6,2266.4 752.5,2270.4 753.4,2269.2 754.3,2263.8 755.1,2271.8 756.0,2273.0 756.9,2266.2 757.8,2262.4 758.7,2268.4 759.6,2267.8 760.5,2271.8 761.4,2271.5 762.3,2278.3 763.2,2274.6 764.1,2271.2 764.9,2273.0 765.8,2261.1 766.7,2269.2 767.6,2269.3 768.5,2272.8 769.4,2274.7 770.3,2274.5 771.2,2277.5 772.1,2271.2 773.0,2275.4 773.9,2273.9 774.8,2274.7 775.6,2276.1 776.5,2273.9 777.4,2276.0 778.3,2275.3 779.2,2279.7 780.1,2275.4 781.0,2277.2 781.9,2287.3 782.8,2280.3 783.7,2280.7 784.6,2283.8 785.5,2276.4 786.4,2284.1 787.2,2285.2 788.1,2284.8 789.0,2287.9 789.9,2288.0 790.8,2290.5 791.7,2284.1 792.6,2289.2 793.5,2286.2 794.4,2293.8 795.3,2289.8 796.1,2284.5 797.0,2290.6 797.9,2286.6 798.8,2295.0 799.7,2290.1 800.6,2283.2 801.4,2290.8 802.3,2296.9 803.2,2294.6 804.1,2291.2 805.0,2296.7 805.9,2296.9 806.7,2300.9 807.6,2299.1 808.5,2297.4 809.4,2292.8 810.3,2297.0 811.2,2297.1 812.2,2296.0 813.1,2297.6 814.0,2291.2 814.9,2298.2 815.8,2295.9 816.7,2297.3 817.7,2295.5 818.6,2294.7 819.5,2296.9 820.4,2299.0 821.3,2294.6 822.2,2297.2 823.2,2292.9 824.1,2297.6 825.0,2296.0 825.9,2290.8 826.8,2298.9 827.7,2289.2 828.6,2291.4 829.5,2284.3 830.4,2281.1 831.4,2289.0 832.3,2279.2 833.2,2274.9 834.1,2280.7 835.0,2273.8 835.9,2277.6 836.8,2285.1 837.8,2275.6 838.7,2278.0 839.6,2278.2 840.5,2276.3 841.4,2274.3 842.4,2280.1 843.3,2273.2 844.3,2275.1 845.2,2274.3 846.2,2268.9 847.1,2275.5 848.1,2274.6 849.0,2277.1 850.0,2277.4 850.8,2284.0 851.7,2273.3 852.5,2281.6 853.3,2285.0 854.2,2286.5 855.0,2294.6 855.9,2293.9 856.8,2295.9 857.7,2290.1 858.5,2293.9 859.4,2298.6 860.3,2298.3 861.2,2298.8 862.1,2302.0 863.0,2302.5 863.9,2300.6 864.7,2312.6 865.6,2304.5 866.5,2310.9 867.4,2311.9 868.3,2314.4 869.2,2309.4 870.0,2308.8 870.9,2315.6 871.8,2316.0 872.7,2306.7 873.5,2306.8 874.4,2316.1 875.3,2317.8 876.2,2319.3 877.0,2323.1 877.9,2318.7 878.8,2334.1 879.7,2328.3 880.5,2331.0 881.4,2328.0 882.3,2319.8 883.2,2329.3 884.1,2326.5 884.9,2330.8 885.8,2329.0 886.7,2332.4 887.6,2326.6 888.4,2329.0 889.3,2330.8 890.2,2328.2 891.1,2329.7 891.9,2334.3 892.8,2339.8 893.7,2331.7 894.6,2336.2 895.4,2328.8 896.3,2331.8 897.2,2335.3 898.1,2337.4 899.0,2332.1 899.9,2339.6 900.8,2338.9 901.7,2344.5 902.6,2344.1 903.5,2343.7 904.3,2341.0 905.2,2344.7 906.1,2341.3 907.0,2342.5 907.9,2339.6 908.8,2342.8 909.7,2344.0 910.6,2348.6 911.5,2349.4 912.3,2343.7 913.2,2348.6 914.1,2350.6 915.0,2352.6 915.9,2348.6 916.7,2349.9 917.6,2347.5 918.5,2352.6 919.4,2342.8 920.2,2349.9 921.1,2339.8 922.0,2355.7 922.9,2353.3 923.8,2342.0 924.6,2348.9 925.5,2346.0 926.4,2345.3 927.3,2351.3 928.2,2350.1 929.0,2358.3 929.9,2352.8 930.8,2351.1 931.7,2355.8 932.6,2358.4 933.4,2360.7 934.3,2360.1 935.2,2352.8 936.1,2356.1 937.0,2359.3 937.8,2357.4 938.7,2364.2 939.6,2360.6 940.5,2362.0 941.4,2361.1 942.3,2363.0 943.1,2357.2 944.0,2371.6 944.9,2361.4 945.8,2361.1 946.7,2357.2 947.6,2364.2 948.5,2359.4 949.3,2366.4 950.2,2370.1 951.1,2368.1 952.0,2364.2 952.9,2372.1 953.9,2367.5 954.8,2369.1 955.8,2370.7 956.7,2369.7 957.6,2374.3 958.6,2369.0 959.5,2368.0 960.4,2379.9 961.3,2372.4 962.2,2374.1 963.1,2377.0 964.0,2374.0 964.9,2371.4 965.8,2375.5 966.7,2372.7 967.6,2378.8 968.5,2375.1 969.5,2376.0 970.4,2380.3 971.3,2371.3 972.2,2371.7 973.1,2380.7 974.0,2383.0 974.9,2378.5 975.8,2375.6 976.7,2383.4 977.6,2380.8 978.5,2383.0 979.4,2372.0 980.3,2378.9 981.2,2375.5 982.1,2375.5 983.0,2382.3 983.9,2383.1 984.8,2378.7 985.7,2379.7 986.6,2386.4 987.5,2383.8 988.4,2380.9 989.3,2383.6 990.3,2382.3 991.2,2377.1 992.1,2380.3 993.0,2383.7 993.9,2385.2 994.8,2378.3 995.7,2380.1 996.6,2381.1 997.5,2377.7 998.4,2388.2 999.3,2385.9 1000.2,2389.4 1001.1,2375.7 1002.0,2381.2 1002.9,2391.6 1003.7,2379.0 1004.6,2377.5 1005.5,2385.6 1006.4,2391.0 1007.3,2387.5 1008.2,2381.3 1009.1,2387.3 1010.0,2386.8 1010.9,2386.3 1011.8,2386.9 1012.6,2388.7 1013.5,2390.1 1014.4,2391.0 1015.3,2389.9 1016.2,2385.3 1017.1,2378.6 1018.0,2388.2 1018.9,2380.2 1019.8,2395.2 1020.6,2381.7 1021.5,2379.1 1022.4,2379.2 1023.3,2388.1 1024.2,2387.8 1025.1,2389.3 1026.0,2387.9 1026.9,2383.8 1027.8,2390.1 1028.7,2384.2 1029.6,2381.1 1030.5,2390.6 1031.4,2389.2 1032.3,2383.5 1033.2,2386.2 1034.1,2391.3 1035.0,2391.0 1035.9,2383.2 1036.8,2391.8 1037.7,2377.3 1038.6,2387.9 1039.5,2389.2 1040.4,2387.2 1041.3,2388.2 1042.2,2381.5 1043.1,2387.4 1044.0,2389.9 1044.9,2384.8 1045.8,2389.5 1046.6,2388.8 1047.5,2381.1 1048.4,2388.1 1049.3,2393.3 1050.2,2385.4 1051.1,2392.1 1051.9,2393.8 1052.8,2388.0 1053.7,2392.5 1054.6,2397.5 1055.5,2397.4 1056.4,2391.1 1057.2,2399.6 1058.1,2397.4 1059.0,2397.1 1059.9,2402.8 1060.8,2400.0 1061.7,2398.9 1062.6,2401.5 1063.5,2400.6 1064.5,2403.3 1065.4,2398.1 1066.3,2391.8 1067.2,2405.3 1068.1,2402.6 1069.0,2401.8 1069.9,2400.2 1070.8,2399.9 1071.7,2401.0 1072.6,2397.1 1073.5,2404.2 1074.5,2401.8 1075.4,2398.0 1076.3,2403.1 1077.2,2401.0 1078.1,2402.5 1079.0,2405.0 1079.9,2413.7 1080.8,2399.1 1081.7,2405.2 1082.6,2406.6 1083.5,2405.7 1084.4,2410.1 1085.3,2402.8 1086.2,2403.4 1087.1,2404.9 1088.0,2399.8 1089.0,2409.8 1089.9,2400.8 1090.8,2408.1 1091.7,2410.9 1092.6,2403.1 1093.5,2405.9 1094.4,2406.0 1095.3,2413.8 1096.2,2408.3 1097.1,2400.6 1098.0,2412.0 1098.9,2412.1 1099.8,2400.9 1100.7,2398.9 1101.6,2420.8 1102.5,2411.6 1103.4,2403.7 1104.3,2417.1 1105.2,2419.3 1106.1,2405.1 1107.0,2420.4 1107.9,2419.0 1108.8,2416.9 1109.7,2414.6 1110.6,2419.2 1111.5,2414.9 1112.4,2419.1 1113.3,2417.8 1114.2,2417.4 1115.1,2421.7 1116.0,2423.8 1116.9,2423.8 1117.8,2422.4 1118.8,2427.7 1119.7,2416.4 1120.6,2422.0 1121.5,2422.8 1122.4,2427.3 1123.3,2413.8 1124.2,2421.4 1125.1,2422.3 1126.0,2424.7 1126.9,2433.2 1127.8,2425.6 1128.7,2424.6 1129.6,2427.3 1130.5,2430.1 1131.3,2426.1 1132.2,2434.0 1133.1,2423.1 1134.0,2433.5 1134.9,2431.9 1135.8,2433.7 1136.6,2436.4 1137.5,2429.9 1138.4,2433.1 1139.3,2433.1 1140.2,2430.2 1141.1,2430.2 1141.9,2430.7 1142.8,2437.8 1143.7,2425.9 1144.6,2430.3 1145.5,2436.1 1146.4,2441.4 1147.3,2436.2 1148.2,2442.1 1149.1,2437.2 1150.0,2435.7 1150.9,2432.1 1151.8,2439.4 1152.7,2446.0 1153.7,2439.9 1154.6,2435.8 1155.5,2442.6 1156.4,2435.3 1157.3,2436.6 1158.2,2446.0 1159.1,2443.6 1160.0,2446.2 1160.9,2443.7 1161.8,2442.7 1162.7,2444.3 1163.6,2442.7 1164.5,2448.9 1165.4,2440.4 1166.4,2438.7 1167.3,2443.6 1168.2,2451.3 1169.2,2446.3 1170.1,2440.1 1171.0,2461.3 1171.9,2446.4 1172.8,2449.4 1173.7,2452.5 1174.6,2451.8 1175.5,2449.7 1176.4,2444.3 1177.3,2452.6 1178.2,2446.7 1179.1,2450.0 1180.0,2453.8 1180.9,2449.3 1181.8,2443.8 1182.7,2448.6 1183.6,2453.5 1184.5,2454.0 1185.4,2446.1 1186.3,2451.5 1187.2,2452.6 1188.1,2455.8 1189.0,2453.2 1189.9,2452.3 1190.8,2450.5 1191.7,2453.7 1192.6,2455.0 1193.5,2451.4 1194.4,2451.5 1195.3,2460.1 1196.1,2453.6 1197.0,2451.2 1197.9,2457.6 1198.8,2450.6 1199.6,2451.8 1200.5,2460.3 1201.4,2457.4 1202.3,2461.0 1203.1,2461.5 1204.0,2456.0 1204.9,2461.6 1205.8,2458.7 1206.6,2461.7 1207.5,2462.4 1208.4,2461.7 1209.3,2457.2 1210.2,2463.9 1211.1,2463.2 1212.0,2465.6 1212.9,2459.6 1213.8,2465.0 1214.7,2463.7 1215.6,2463.2 1216.5,2464.2 1217.4,2464.6 1218.3,2460.6 1219.3,2464.2 1220.2,2464.9 1221.1,2468.9 1222.0,2466.8 1222.9,2473.4 1223.8,2470.6 1224.7,2469.8 1225.6,2469.7 1226.5,2463.7 1227.4,2471.1 1228.3,2475.0 1229.2,2466.4 1230.1,2476.1 1231.0,2473.8 1231.9,2473.0 1232.8,2470.6 1233.7,2472.8 1234.6,2470.1 1235.5,2473.6 1236.4,2474.3 1237.3,2474.8 1238.2,2470.2 1239.1,2479.2 1240.0,2473.4 1240.9,2478.0 1241.8,2479.2 1242.7,2476.5 1243.6,2487.4 1244.5,2478.7 1245.4,2480.4 1246.3,2478.2 1247.2,2480.9 1248.1,2475.1 1249.0,2483.1 1249.9,2479.6 1250.8,2479.2 1251.8,2484.5 1252.7,2485.3 1253.6,2480.3 1254.5,2478.2 1255.5,2474.6 1256.4,2478.8 1257.3,2484.9 1258.2,2484.2 1259.0,2475.5 1259.9,2479.4 1260.8,2482.1 1261.7,2473.8 1262.5,2473.3 1263.4,2470.7 1264.3,2474.6 1265.1,2464.3 1266.0,2470.0 1266.9,2474.7 1267.8,2474.9 1268.7,2481.2 1269.6,2482.2 1270.5,2480.1 1271.4,2480.5 1272.3,2482.5 1273.2,2488.8 1274.1,2486.5 1275.0,2487.6 1275.9,2483.7 1276.8,2492.0 1277.7,2491.0 1278.6,2490.7 1279.5,2483.5 1280.4,2498.2 1281.3,2491.5 1282.2,2484.1 1283.1,2492.3 1283.9,2488.1 1284.8,2485.7 1285.7,2485.9 1286.6,2491.0 1287.5,2490.4 1288.4,2490.2 1289.3,2488.7 1290.2,2485.6 1291.1,2490.8 1292.0,2488.9 1292.9,2489.3 1293.8,2492.6 1294.7,2497.0 1295.6,2488.3 1296.5,2494.9 1297.4,2488.6 1298.3,2495.1 1299.1,2494.7 1300.0,2492.6 1300.9,2493.5 1301.8,2491.1 1302.7,2492.7 1303.6,2496.6 1304.5,2496.4 1305.4,2500.9 1306.3,2492.3 1307.2,2494.1 1308.0,2496.0 1308.9,2496.3 1309.8,2495.1 1310.7,2495.7 1311.6,2496.9 1312.5,2501.0 1313.4,2497.6 1314.3,2496.2 1315.2,2499.5 1316.0,2491.8 1316.9,2497.0 1317.8,2498.0 1318.7,2500.9 1319.6,2494.2 1320.5,2500.0 1321.4,2497.9 1322.3,2503.7 1323.2,2503.5 1324.0,2500.3 1324.9,2503.0 1325.8,2498.8 1326.7,2502.8 1327.6,2503.1 1328.5,2505.5 1329.4,2501.7 1330.3,2497.2 1331.2,2505.5 1332.0,2500.6 1332.9,2502.2 1333.8,2503.0 1334.7,2508.7 1335.6,2504.3 1336.5,2507.8 1337.4,2505.0 1338.3,2501.2 1339.2,2506.5 1340.1,2506.9 1340.9,2504.2 1341.8,2501.7 1342.7,2513.9 1343.6,2512.2 1344.5,2507.7 1345.4,2508.2 1346.3,2509.8 1347.2,2509.2 1348.0,2503.9 1348.9,2504.5 1349.8,2510.9 1350.7,2512.7 1351.6,2512.2 1352.5,2511.9 1353.4,2509.9 1354.2,2512.9 1355.1,2514.9 1356.0,2512.4 1356.9,2514.7 1357.8,2514.9 1358.7,2510.0 1359.6,2515.5 1360.4,2510.6 1361.3,2510.5 1362.2,2517.7 1363.1,2509.2 1364.0,2513.5 1364.9,2516.8 1365.8,2515.7 1366.6,2513.9 1367.5,2512.8 1368.4,2517.1 1369.3,2517.5 1370.2,2516.0 1371.1,2513.7 1372.0,2512.7 1372.9,2516.8 1373.7,2516.9 1374.6,2519.5 1375.5,2516.5 1376.4,2520.1 1377.3,2514.5 1378.2,2513.3 1379.1,2520.7 1380.0,2517.2 1380.9,2516.3 1381.8,2518.4 1382.6,2515.6 1383.5,2518.2 1384.4,2515.6 1385.3,2520.0 1386.2,2518.2 1387.1,2519.8 1388.0,2520.1 1388.9,2521.5 1389.8,2515.9 1390.6,2521.1 1391.5,2520.2 1392.4,2518.0 1393.3,2520.6 1394.2,2522.9 1395.1,2522.9 1396.0,2527.2 1396.9,2521.0 1397.8,2522.5 1398.7,2527.4 1399.6,2520.7 1400.5,2520.2 1401.4,2521.4 1402.3,2521.2 1403.2,2522.8 1404.1,2523.4 1405.0,2521.1 1405.8,2520.2 1406.7,2523.3 1407.6,2520.3 1408.5,2521.5 1409.4,2524.8 1410.3,2523.8 1411.2,2521.5 1412.1,2520.4 1413.0,2521.7 1413.9,2520.6 1414.8,2526.2 1415.7,2526.9 1416.6,2525.8 1417.5,2526.0 1418.4,2524.0 1419.3,2526.0 1420.3,2525.9 1421.2,2526.0 1422.1,2524.7 1423.0,2523.3 1423.9,2527.2 1424.8,2527.6 1425.7,2523.7 1426.6,2526.3 1427.6,2527.0 1428.5,2528.6 1429.4,2522.8 1430.3,2523.8 1431.2,2524.1 1432.1,2524.6 1433.0,2525.2 1434.0,2530.6 1434.9,2525.3 1435.8,2534.4 1436.7,2529.6 1437.6,2530.9 1438.5,2529.0 1439.4,2531.7 1440.3,2530.5 1441.3,2531.9 1442.2,2531.4 1443.1,2531.7 1444.0,2531.2 1444.9,2533.4 1445.8,2530.7 1446.7,2529.5 1447.6,2535.4 1448.4,2530.0 1449.3,2532.6 1450.2,2537.5 1451.1,2530.3 1452.0,2531.5 1452.9,2530.6 1453.8,2530.2 1454.7,2534.7 1455.6,2532.6 1456.5,2533.7 1457.3,2529.0 1458.2,2535.1 1459.1,2532.1 1460.0,2529.0 1460.9,2532.5 1461.8,2530.4 1462.7,2539.2 1463.6,2530.6 1464.5,2536.2 1465.3,2532.8 1466.2,2533.6 1467.1,2532.6 1468.0,2539.6 1468.9,2533.5 1469.8,2534.9 1470.7,2537.4 1471.6,2535.9 1472.5,2538.9 1473.3,2535.2 1474.2,2532.9 1475.1,2538.7 1476.0,2540.8 1476.9,2539.1 1477.8,2535.6 1478.7,2541.1 1479.6,2540.2 1480.5,2537.2 1481.3,2539.5 1482.2,2538.4 1483.1,2538.9 1484.0,2540.5 1484.9,2541.3 1485.8,2539.3 1486.7,2539.3 1487.6,2532.6 1488.5,2537.2 1489.4,2540.8 1490.2,2537.5 1491.1,2540.8 1492.0,2539.4 1492.9,2540.3 1493.8,2540.5 1494.7,2543.9 1495.6,2541.8 1496.5,2540.7 1497.4,2537.6 1498.2,2541.9 1499.1,2538.1 1500.0,2544.5 1500.9,2539.4 1501.8,2539.8 1502.7,2541.2 1503.6,2539.0 1504.5,2543.2 1505.4,2542.9 1506.2,2540.3 1507.1,2540.8 1508.0,2547.3 1508.9,2545.6 1509.8,2544.1 1510.7,2543.6 1511.6,2547.0 1512.5,2542.0 1513.4,2542.5 1514.3,2543.0 1515.1,2540.6 1516.0,2541.2 1516.9,2548.7 1517.8,2544.3 1518.7,2541.6 1519.6,2543.6 1520.5,2543.2 1521.4,2543.6 1522.3,2544.8 1523.2,2541.3 1524.1,2540.6 1524.9,2545.2 1525.8,2545.3 1526.7,2543.0 1527.6,2546.1 1528.5,2545.1 1529.4,2547.4 1530.3,2546.6 1531.2,2550.4 1532.1,2551.4 1533.0,2549.7 1533.9,2548.2 1534.8,2550.6 1535.6,2550.6 1536.5,2550.1 1537.4,2551.2 1538.3,2548.3 1539.2,2551.6 1540.1,2551.2 1541.0,2551.1 1541.9,2549.6 1542.8,2549.0 1543.7,2551.7 1544.5,2548.9 1545.4,2547.4 1546.3,2554.8 1547.2,2553.5 1548.1,2548.4 1549.0,2554.2 1549.9,2545.0 1550.8,2552.2 1551.6,2552.4 1552.5,2551.3 1553.4,2550.1 1554.3,2552.8 1555.2,2552.2 1556.1,2547.8 1557.0,2548.9 1557.9,2553.6 1558.7,2553.0 1559.6,2548.0 1560.5,2547.1 1561.4,2552.3 1562.3,2548.9 1563.2,2549.2 1564.1,2549.8 1565.0,2551.9 1565.8,2545.9 1566.7,2553.5 1567.6,2550.4 1568.5,2553.9 1569.4,2548.4 1570.3,2549.2 1571.2,2552.8 1572.1,2554.2 1573.0,2551.4 1573.9,2550.7 1574.8,2555.1 1575.7,2554.5 1576.6,2552.4 1577.5,2550.9 1578.4,2555.0 1579.3,2553.5 1580.2,2550.7 1581.1,2555.6 1582.0,2554.6 1582.9,2552.3 1583.8,2552.9 1584.7,2553.8 1585.6,2550.5 1586.5,2548.5 1587.4,2554.9 1588.3,2547.4 1589.2,2547.7 1590.1,2548.0 1591.0,2553.1 1592.0,2554.6 1592.9,2550.1 1593.8,2555.3 1594.7,2556.2 1595.6,2555.5 1596.5,2548.4 1597.4,2555.3 1598.3,2558.0 1599.2,2549.5 1600.1,2547.6 1601.0,2555.3 1601.9,2553.3 1602.8,2551.8 1603.7,2551.8 1604.6,2547.4 1605.5,2549.7 1606.4,2552.5 1607.3,2553.3 1608.2,2554.5 1609.1,2554.5 1610.0,2550.8 1610.9,2551.8 1611.8,2555.9 1612.7,2548.4 1613.6,2553.5 1614.5,2549.9 1615.4,2552.9 1616.3,2557.4 1617.2,2553.7 1618.1,2551.5 1619.0,2551.0 1619.9,2549.2 1620.8,2553.1 1621.7,2547.2 1622.6,2553.2 1623.5,2553.9 1624.4,2551.2 1625.3,2551.7 1626.2,2557.1 1627.1,2557.4 1628.0,2559.7 1628.9,2557.4 1629.8,2555.3 1630.7,2554.0 1631.6,2558.0 1632.5,2556.7 1633.4,2555.4 1634.3,2559.9 1635.2,2554.8 1636.1,2555.8 1637.0,2558.4 1637.9,2556.9 1638.8,2556.0 1639.8,2558.7 1640.7,2563.5 1641.6,2555.3 1642.5,2558.1 1643.4,2557.6 1644.3,2557.0 1645.2,2561.2 1646.1,2556.6 1647.0,2561.5 1647.9,2554.4 1648.8,2557.5 1649.7,2555.1 1650.6,2558.5 1651.5,2559.4 1652.4,2559.2 1653.3,2558.5 1654.2,2557.3 1655.1,2554.8 1656.0,2560.5 1656.9,2558.4 1657.8,2561.6 1658.7,2554.1 1659.6,2558.1 1660.5,2554.3 1661.4,2562.0 1662.3,2557.2 1663.2,2556.5 1664.1,2561.8 1665.0,2559.3 1665.9,2560.3 1666.8,2559.5 1667.7,2562.9 1668.6,2560.7 1669.5,2560.7 1670.4,2560.1 1671.4,2562.8 1672.3,2563.3 1673.2,2559.5 1674.1,2562.8 1675.0,2556.5 1675.9,2558.5 1676.8,2559.3 1677.7,2558.9 1678.6,2562.4 1679.5,2557.3 1680.4,2556.9 1681.3,2561.7 1682.2,2558.9 1683.2,2561.5 1684.1,2561.7 1685.0,2559.7 1685.9,2560.6 1686.8,2564.0 1687.7,2561.8 1688.6,2562.1 1689.5,2563.8 1690.4,2560.1 1691.3,2558.9 1692.2,2561.3 1693.2,2566.7 1694.1,2564.1 1695.0,2568.5 1695.9,2565.3 1696.8,2565.2 1697.7,2561.5 1698.6,2558.5 1699.5,2557.3 1700.4,2563.5 1701.3,2560.1 1702.2,2560.1 1703.1,2564.9 1704.0,2564.2 1705.0,2560.0 1705.9,2564.3 1706.8,2567.4 1707.7,2566.3 1708.6,2562.0 1709.5,2566.5 1710.4,2558.7 1711.3,2563.3 1712.2,2562.9 1713.1,2567.6 1714.0,2561.0 1714.9,2561.8 1715.8,2563.5 1716.7,2566.5 1717.6,2560.8 1718.5,2565.2 1719.4,2563.7 1720.3,2563.5 1721.2,2561.4 1722.1,2566.0 1723.0,2565.3 1723.9,2566.2 1724.8,2565.5 1725.6,2564.8 1726.5,2562.8 1727.4,2565.2 1728.3,2567.4 1729.2,2565.8 1730.1,2566.9 1731.0,2567.9 1731.9,2566.5 1732.8,2565.0 1733.7,2563.1 1734.6,2569.2 1735.5,2565.4 1736.4,2565.4 1737.3,2566.2 1738.2,2568.2 1739.1,2568.4 1740.0,2564.2 1740.9,2566.0 1741.8,2569.4 1742.7,2564.7 1743.6,2566.5 1744.5,2564.2 1745.4,2562.6 1746.3,2563.1 1747.2,2567.1 1748.1,2567.6 1749.0,2559.8 1749.9,2566.2 1750.8,2566.3 1751.7,2562.8 1752.6,2566.9 1753.5,2565.0 1754.4,2570.8 1755.2,2564.6 1756.1,2570.1 1757.0,2564.2 1757.9,2564.7 1758.8,2571.4 1759.7,2565.5 1760.6,2566.5 1761.5,2563.4 1762.4,2568.2 1763.3,2571.6 1764.2,2567.1 1765.1,2567.2 1766.0,2568.0 1766.9,2566.0 1767.8,2564.7 1768.7,2568.3 1769.6,2567.4 1770.5,2563.6 1771.4,2561.7 1772.3,2569.4 1773.2,2564.6 1774.1,2569.1 1775.0,2570.2 1775.9,2567.5 1776.8,2565.9 1777.7,2560.6 1778.6,2571.5 1779.5,2569.6 1780.4,2565.0 1781.3,2564.1 1782.2,2568.2 1783.1,2561.3 1784.0,2568.5 1784.9,2569.1 1785.8,2563.1 1786.7,2563.4 1787.6,2571.0 1788.5,2564.7 1789.4,2566.4 1790.3,2564.9 1791.2,2560.1 1792.1,2568.3 1793.0,2569.9 1793.9,2563.8 1794.8,2562.8 1795.7,2569.3 1796.6,2560.9 1797.5,2564.2 1798.4,2561.5 1799.3,2560.9 1800.2,2563.6 1801.1,2558.1 1802.0,2562.1 1802.9,2565.6 1803.8,2563.6 1804.7,2562.6 1805.6,2572.4 1806.5,2567.9 1807.4,2564.4 1808.4,2568.9 1809.3,2567.7 1810.2,2566.5 1811.1,2568.1 1812.0,2565.2 1812.9,2564.7 1813.8,2571.2 1814.7,2566.6 1815.6,2570.6 1816.5,2561.1 1817.4,2564.1 1818.3,2564.2 1819.2,2567.1 1820.1,2566.6 1821.0,2569.5 1821.9,2568.3 1822.8,2567.0 1823.7,2568.5 1824.6,2569.1 1825.5,2568.0 1826.4,2560.6 1827.3,2566.0 1828.2,2569.1 1829.2,2566.4 1830.1,2571.3 1831.0,2566.2 1831.9,2567.9 1832.8,2565.6 1833.7,2567.5 1834.6,2570.9 1835.5,2571.8 1836.4,2570.4 1837.3,2569.9 1838.2,2568.5 1839.1,2564.7 1840.0,2570.0 1840.9,2566.6 1841.8,2569.2 1842.7,2568.2 1843.6,2570.8 1844.5,2566.7 1845.4,2570.7 1846.2,2568.6 1847.1,2573.1 1848.0,2568.4 1848.9,2568.3 1849.8,2563.7 1850.7,2571.2 1851.6,2569.0 1852.5,2562.9 1853.4,2570.3 1854.3,2570.3 1855.2,2568.2 1856.1,2572.6 1856.9,2568.8 1857.8,2568.8 1858.7,2570.3 1859.6,2566.2 1860.5,2570.8 1861.4,2567.0 1862.3,2570.1 1863.2,2572.4 1864.1,2568.4 1865.0,2567.8 1865.9,2574.1 1866.8,2569.7 1867.6,2572.6 1868.5,2571.3 1869.4,2571.0 1870.3,2573.7 1871.2,2569.7 1872.1,2565.7 1873.0,2569.3 1873.9,2568.3 1874.8,2567.0 1875.7,2569.0 1876.6,2571.2 1877.5,2571.5 1878.3,2570.4 1879.2,2569.9 1880.1,2570.5 1881.0,2569.1 1881.9,2568.1 1882.8,2570.6 1883.7,2572.8 1884.6,2568.4 1885.5,2570.4 1886.4,2572.2 1887.3,2567.7 1888.2,2571.3 1889.1,2570.6 1890.0,2572.9 1890.9,2567.7 1891.8,2568.9 1892.7,2574.2 1893.6,2575.5 1894.5,2571.5 1895.4,2573.6 1896.3,2568.2 1897.2,2572.5 1898.1,2570.6 1899.0,2571.6 1899.9,2566.4 1900.8,2570.1 1901.7,2571.5 1902.6,2572.6 1903.5,2570.8 1904.4,2570.7 1905.3,2572.1 1906.3,2574.1 1907.2,2565.6 1908.1,2564.3 1909.0,2569.4 1909.9,2573.7 1910.8,2574.2 1911.7,2571.2 1912.6,2566.6 1913.5,2570.7 1914.4,2567.4 1915.3,2571.3 1916.2,2568.5 1917.1,2573.5 1918.0,2566.3 1918.9,2572.8 1919.8,2566.8 1920.7,2570.6 1921.6,2569.6 1922.5,2565.1 1923.4,2563.4 1924.3,2568.1 1925.2,2567.7 1926.1,2566.9 1927.0,2570.4 1927.9,2569.3 1928.8,2570.2 1929.7,2565.8 1930.6,2568.3 1931.5,2568.3 1932.4,2571.5 1933.3,2572.3 1934.2,2567.6 1935.0,2568.9 1935.9,2562.4 1936.8,2574.6 1937.7,2570.1 1938.6,2570.6 1939.5,2570.2 1940.4,2568.9 1941.3,2564.6 1942.2,2567.0 1943.1,2567.3 1944.0,2568.9 1944.9,2566.6 1945.8,2570.3 1946.7,2571.5 1947.6,2570.3 1948.5,2570.3 1949.3,2576.4 1950.2,2567.9 1951.1,2568.3 1952.0,2572.4 1952.9,2569.2 1953.8,2574.9 1954.7,2568.5 1955.6,2570.3 1956.5,2575.1 1957.4,2566.1 1958.3,2573.4 1959.2,2571.4 1960.1,2571.3 1961.0,2574.6 1961.9,2569.2 1962.8,2572.6 1963.6,2569.6 1964.5,2574.5 1965.4,2567.7 1966.3,2570.9 1967.2,2569.7 1968.1,2568.2 1969.0,2574.0 1969.9,2570.3 1970.8,2573.0 1971.7,2565.1 1972.6,2568.6 1973.5,2568.7 1974.4,2572.4 1975.3,2567.0 1976.2,2572.3 1977.1,2574.0 1978.0,2571.6 1978.9,2571.8 1979.8,2570.3 1980.7,2569.0 1981.6,2571.3 1982.5,2571.9 1983.3,2575.4 1984.2,2571.9 1985.1,2569.4 1986.0,2573.6 1986.9,2568.6 1987.8,2565.8 1988.7,2570.7 1989.6,2569.4 1990.5,2573.1 1991.4,2571.2 1992.3,2567.8 1993.2,2569.3 1994.1,2569.9 1995.0,2577.0" fill="none" stroke="#000" stroke-width="2.4" stroke-linejoin="round" stroke-linecap="butt"/>
</g>
<g id="axes" fill="#000">
<rect x="309.35" y="141.70" width="1691.10" height="5.50"/>
<rect x="309.35" y="1428.20" width="1691.10" height="5.00"/>
<rect x="677.00" y="1433.20" width="1320.70" height="2.50" fill="#555"/>
<rect x="309.35" y="2713.85" width="1691.10" height="5.50"/>
<rect x="309.35" y="2719.35" width="1691.10" height="1.90" fill="#7a7a7a"/>
<rect x="309.35" y="141.70" width="5.50" height="2577.65"/>
<rect x="1994.95" y="141.70" width="5.50" height="2577.65"/>
<rect x="1992.35" y="147.20" width="2.60" height="1281.00" fill="#c4c4c4"/>
<rect x="1992.35" y="1435.70" width="2.60" height="1278.15" fill="#c4c4c4"/>
<rect x="369.18" y="144.45" width="5.70" height="16.30"/>
<rect x="374.88" y="147.20" width="1.60" height="13.55" fill="#aaa"/>
<rect x="369.43" y="1414.30" width="5.20" height="16.30"/>
<rect x="369.18" y="2700.30" width="5.70" height="16.30"/>
<rect x="429.40" y="144.45" width="5.70" height="32.50"/>
<rect x="435.10" y="147.20" width="1.60" height="29.75" fill="#aaa"/>
<rect x="429.65" y="1398.10" width="5.20" height="32.50"/>
<rect x="429.40" y="2684.10" width="5.70" height="32.50"/>
<rect x="489.62" y="144.45" width="5.70" height="16.30"/>
<rect x="495.33" y="147.20" width="1.60" height="13.55" fill="#aaa"/>
<rect x="489.88" y="1414.30" width="5.20" height="16.30"/>
<rect x="489.62" y="2700.30" width="5.70" height="16.30"/>
<rect x="549.85" y="144.45" width="5.70" height="32.50"/>
<rect x="555.55" y="147.20" width="1.60" height="29.75" fill="#aaa"/>
<rect x="550.10" y="1398.10" width="5.20" height="32.50"/>
<rect x="549.85" y="2684.10" width="5.70" height="32.50"/>
<rect x="610.07" y="144.45" width="5.70" height="16.30"/>
<rect x="615.77" y="147.20" width="1.60" height="13.55" fill="#aaa"/>
<rect x="610.32" y="1414.30" width="5.20" height="16.30"/>
<rect x="610.07" y="2700.30" width="5.70" height="16.30"/>
<rect x="670.30" y="144.45" width="5.70" height="32.50"/>
<rect x="676.00" y="147.20" width="1.60" height="29.75" fill="#aaa"/>
<rect x="670.55" y="1398.10" width="5.20" height="32.50"/>
<rect x="670.30" y="2684.10" width="5.70" height="32.50"/>
<rect x="730.52" y="144.45" width="5.70" height="16.30"/>
<rect x="736.23" y="147.20" width="1.60" height="13.55" fill="#aaa"/>
<rect x="727.92" y="1414.30" width="2.60" height="13.55" fill="#777"/>
<rect x="730.52" y="1414.30" width="5.70" height="16.30"/>
<rect x="730.52" y="2700.30" width="5.70" height="16.30"/>
<rect x="790.75" y="144.45" width="5.70" height="32.50"/>
<rect x="796.45" y="147.20" width="1.60" height="29.75" fill="#aaa"/>
<rect x="788.15" y="1398.10" width="2.60" height="29.75" fill="#777"/>
<rect x="790.75" y="1398.10" width="5.70" height="32.50"/>
<rect x="790.75" y="2684.10" width="5.70" height="32.50"/>
<rect x="850.98" y="144.45" width="5.70" height="16.30"/>
<rect x="856.68" y="147.20" width="1.60" height="13.55" fill="#aaa"/>
<rect x="848.38" y="1414.30" width="2.60" height="13.55" fill="#777"/>
<rect x="850.98" y="1414.30" width="5.70" height="16.30"/>
<rect x="850.98" y="2700.30" width="5.70" height="16.30"/>
<rect x="911.20" y="144.45" width="5.70" height="32.50"/>
<rect x="916.90" y="147.20" width="1.60" height="29.75" fill="#aaa"/>
<rect x="908.60" y="1398.10" width="2.60" height="29.75" fill="#777"/>
<rect x="911.20" y="1398.10" width="5.70" height="32.50"/>
<rect x="911.20" y="2684.10" width="5.70" height="32.50"/>
<rect x="971.43" y="144.45" width="5.70" height="16.30"/>
<rect x="977.13" y="147.20" width="1.60" height="13.55" fill="#aaa"/>
<rect x="968.83" y="1414.30" width="2.60" height="13.55" fill="#777"/>
<rect x="971.43" y="1414.30" width="5.70" height="16.30"/>
<rect x="971.43" y="2700.30" width="5.70" height="16.30"/>
<rect x="1031.65" y="144.45" width="5.70" height="32.50"/>
<rect x="1037.35" y="147.20" width="1.60" height="29.75" fill="#aaa"/>
<rect x="1029.05" y="1398.10" width="2.60" height="29.75" fill="#777"/>
<rect x="1031.65" y="1398.10" width="5.70" height="32.50"/>
<rect x="1031.65" y="2684.10" width="5.70" height="32.50"/>
<rect x="1091.88" y="144.45" width="5.70" height="16.30"/>
<rect x="1097.57" y="147.20" width="1.60" height="13.55" fill="#aaa"/>
<rect x="1089.28" y="1414.30" width="2.60" height="13.55" fill="#777"/>
<rect x="1091.88" y="1414.30" width="5.70" height="16.30"/>
<rect x="1091.88" y="2700.30" width="5.70" height="16.30"/>
<rect x="1152.10" y="144.45" width="5.70" height="32.50"/>
<rect x="1157.80" y="147.20" width="1.60" height="29.75" fill="#aaa"/>
<rect x="1149.50" y="1398.10" width="2.60" height="29.75" fill="#777"/>
<rect x="1152.10" y="1398.10" width="5.70" height="32.50"/>
<rect x="1152.10" y="2684.10" width="5.70" height="32.50"/>
<rect x="1212.33" y="144.45" width="5.70" height="16.30"/>
<rect x="1218.02" y="147.20" width="1.60" height="13.55" fill="#aaa"/>
<rect x="1209.73" y="1414.30" width="2.60" height="13.55" fill="#777"/>
<rect x="1212.33" y="1414.30" width="5.70" height="16.30"/>
<rect x="1212.33" y="2700.30" width="5.70" height="16.30"/>
<rect x="1272.55" y="144.45" width="5.70" height="32.50"/>
<rect x="1278.25" y="147.20" width="1.60" height="29.75" fill="#aaa"/>
<rect x="1269.95" y="1398.10" width="2.60" height="29.75" fill="#777"/>
<rect x="1272.55" y="1398.10" width="5.70" height="32.50"/>
<rect x="1272.55" y="2684.10" width="5.70" height="32.50"/>
<rect x="1332.78" y="144.45" width="5.70" height="16.30"/>
<rect x="1338.47" y="147.20" width="1.60" height="13.55" fill="#aaa"/>
<rect x="1330.18" y="1414.30" width="2.60" height="13.55" fill="#777"/>
<rect x="1332.78" y="1414.30" width="5.70" height="16.30"/>
<rect x="1332.78" y="2700.30" width="5.70" height="16.30"/>
<rect x="1393.00" y="144.45" width="7.90" height="32.50"/>
<rect x="1390.40" y="1398.10" width="2.60" height="29.75" fill="#777"/>
<rect x="1393.00" y="1398.10" width="5.70" height="32.50"/>
<rect x="1393.00" y="2684.10" width="5.70" height="32.50"/>
<rect x="1453.23" y="144.45" width="7.90" height="16.30"/>
<rect x="1450.63" y="1414.30" width="2.60" height="13.55" fill="#777"/>
<rect x="1453.23" y="1414.30" width="5.70" height="16.30"/>
<rect x="1453.23" y="2700.30" width="5.70" height="16.30"/>
<rect x="1513.45" y="144.45" width="7.90" height="32.50"/>
<rect x="1510.85" y="1398.10" width="2.60" height="29.75" fill="#777"/>
<rect x="1513.45" y="1398.10" width="5.70" height="32.50"/>
<rect x="1513.45" y="2684.10" width="5.70" height="32.50"/>
<rect x="1573.67" y="144.45" width="7.90" height="16.30"/>
<rect x="1571.08" y="1414.30" width="2.60" height="13.55" fill="#777"/>
<rect x="1573.67" y="1414.30" width="5.70" height="16.30"/>
<rect x="1573.67" y="2700.30" width="5.70" height="16.30"/>
<rect x="1633.90" y="144.45" width="7.90" height="32.50"/>
<rect x="1631.30" y="1398.10" width="2.60" height="29.75" fill="#777"/>
<rect x="1633.90" y="1398.10" width="5.70" height="32.50"/>
<rect x="1633.90" y="2684.10" width="5.70" height="32.50"/>
<rect x="1694.12" y="144.45" width="7.90" height="16.30"/>
<rect x="1691.53" y="1414.30" width="2.60" height="13.55" fill="#777"/>
<rect x="1694.12" y="1414.30" width="5.70" height="16.30"/>
<rect x="1694.12" y="2700.30" width="5.70" height="16.30"/>
<rect x="1754.35" y="144.45" width="7.90" height="32.50"/>
<rect x="1751.75" y="1398.10" width="2.60" height="29.75" fill="#777"/>
<rect x="1754.35" y="1398.10" width="5.70" height="32.50"/>
<rect x="1754.35" y="2684.10" width="5.70" height="32.50"/>
<rect x="1814.58" y="144.45" width="7.90" height="16.30"/>
<rect x="1811.98" y="1414.30" width="2.60" height="13.55" fill="#777"/>
<rect x="1814.58" y="1414.30" width="5.70" height="16.30"/>
<rect x="1814.58" y="2700.30" width="5.70" height="16.30"/>
<rect x="1874.80" y="144.45" width="7.90" height="32.50"/>
<rect x="1872.20" y="1398.10" width="2.60" height="29.75" fill="#777"/>
<rect x="1874.80" y="1398.10" width="5.70" height="32.50"/>
<rect x="1874.80" y="2684.10" width="5.70" height="32.50"/>
<rect x="1935.03" y="144.45" width="7.90" height="16.30"/>
<rect x="1932.43" y="1414.30" width="2.60" height="13.55" fill="#777"/>
<rect x="1935.03" y="1414.30" width="5.70" height="16.30"/>
<rect x="1935.03" y="2700.30" width="5.70" height="16.30"/>
<rect x="312.10" y="464.05" width="32.50" height="5.50"/>
<rect x="1965.20" y="464.05" width="32.50" height="5.50"/>
<rect x="312.10" y="784.85" width="32.50" height="5.50"/>
<rect x="1965.20" y="784.85" width="32.50" height="5.50"/>
<rect x="312.10" y="1106.25" width="32.50" height="5.50"/>
<rect x="1965.20" y="1106.25" width="32.50" height="5.50"/>
<rect x="312.10" y="1757.55" width="32.50" height="5.50"/>
<rect x="1965.20" y="1757.55" width="32.50" height="5.50"/>
<rect x="312.10" y="2076.05" width="32.50" height="5.50"/>
<rect x="1965.20" y="2076.05" width="32.50" height="5.50"/>
<rect x="312.10" y="2395.25" width="32.50" height="5.50"/>
<rect x="1965.20" y="2395.25" width="32.50" height="5.50"/>
<rect x="312.10" y="302.65" width="16.30" height="5.50"/>
<rect x="1981.40" y="302.65" width="16.30" height="5.50"/>
<rect x="312.10" y="624.45" width="16.30" height="5.50"/>
<rect x="1981.40" y="624.45" width="16.30" height="5.50"/>
<rect x="312.10" y="945.55" width="16.30" height="5.50"/>
<rect x="1981.40" y="945.55" width="16.30" height="5.50"/>
<rect x="312.10" y="1267.85" width="16.30" height="5.50"/>
<rect x="1981.40" y="1267.85" width="16.30" height="5.50"/>
<rect x="312.10" y="1598.45" width="16.30" height="5.50"/>
<rect x="1981.40" y="1598.45" width="16.30" height="5.50"/>
<rect x="312.10" y="1915.85" width="16.30" height="5.50"/>
<rect x="1981.40" y="1915.85" width="16.30" height="5.50"/>
<rect x="312.10" y="2235.75" width="16.30" height="5.50"/>
<rect x="1981.40" y="2235.75" width="16.30" height="5.50"/>
<rect x="312.10" y="2554.65" width="16.30" height="5.50"/>
<rect x="1981.40" y="2554.65" width="16.30" height="5.50"/>
<rect x="1965.20" y="1435.70" width="30.00" height="3.10" fill="#bbb"/>
<rect x="1965.20" y="1438.80" width="32.50" height="5.20" fill="#000"/>
</g>
<rect x="308.85" y="143.90" width="314.15" height="93.10" fill="#fff"/>
<rect x="308.85" y="1430.20" width="368.15" height="96.30" fill="#fff"/>
<rect x="308.60" y="1431.00" width="1.20" height="94.00" fill="#d0d0d0"/>
<rect x="309.35" y="141.70" width="313.65" height="2.20" fill="#3c3c3c"/>
<rect x="486.60" y="218.00" width="36.20" height="7.40" fill="#ff0000"/>
<rect x="494.80" y="1508.90" width="38.40" height="5.60" fill="#000"/>
<g id="labels" stroke="#fff" stroke-width="0.7">
<text x="312.5" y="93.6" font-size="64.5" text-anchor="middle" font-weight="normal" fill="#000" font-family="'Liberation Sans', Arial, sans-serif"  textLength="68.3" lengthAdjust="spacingAndGlyphs">10</text>
<text x="312.5" y="2801.0" font-size="64.5" text-anchor="middle" font-weight="normal" fill="#000" font-family="'Liberation Sans', Arial, sans-serif"  textLength="68.3" lengthAdjust="spacingAndGlyphs">10</text>
<text x="432.8" y="93.6" font-size="64.5" text-anchor="middle" font-weight="normal" fill="#000" font-family="'Liberation Sans', Arial, sans-serif"  textLength="68.3" lengthAdjust="spacingAndGlyphs">15</text>
<text x="432.8" y="2801.0" font-size="64.5" text-anchor="middle" font-weight="normal" fill="#000" font-family="'Liberation Sans', Arial, sans-serif"  textLength="68.3" lengthAdjust="spacingAndGlyphs">15</text>
<text x="553.1" y="93.6" font-size="64.5" text-anchor="middle" font-weight="normal" fill="#000" font-family="'Liberation Sans', Arial, sans-serif"  textLength="68.3" lengthAdjust="spacingAndGlyphs">20</text>
<text x="553.1" y="2801.0" font-size="64.5" text-anchor="middle" font-weight="normal" fill="#000" font-family="'Liberation Sans', Arial, sans-serif"  textLength="68.3" lengthAdjust="spacingAndGlyphs">20</text>
<text x="673.3" y="93.6" font-size="64.5" text-anchor="middle" font-weight="normal" fill="#000" font-family="'Liberation Sans', Arial, sans-serif"  textLength="68.3" lengthAdjust="spacingAndGlyphs">25</text>
<text x="673.3" y="2801.0" font-size="64.5" text-anchor="middle" font-weight="normal" fill="#000" font-family="'Liberation Sans', Arial, sans-serif"  textLength="68.3" lengthAdjust="spacingAndGlyphs">25</text>
<text x="793.6" y="93.6" font-size="64.5" text-anchor="middle" font-weight="normal" fill="#000" font-family="'Liberation Sans', Arial, sans-serif"  textLength="68.3" lengthAdjust="spacingAndGlyphs">30</text>
<text x="793.6" y="2801.0" font-size="64.5" text-anchor="middle" font-weight="normal" fill="#000" font-family="'Liberation Sans', Arial, sans-serif"  textLength="68.3" lengthAdjust="spacingAndGlyphs">30</text>
<text x="913.9" y="93.6" font-size="64.5" text-anchor="middle" font-weight="normal" fill="#000" font-family="'Liberation Sans', Arial, sans-serif"  textLength="68.3" lengthAdjust="spacingAndGlyphs">35</text>
<text x="913.9" y="2801.0" font-size="64.5" text-anchor="middle" font-weight="normal" fill="#000" font-family="'Liberation Sans', Arial, sans-serif"  textLength="68.3" lengthAdjust="spacingAndGlyphs">35</text>
<text x="1034.2" y="93.6" font-size="64.5" text-anchor="middle" font-weight="normal" fill="#000" font-family="'Liberation Sans', Arial, sans-serif"  textLength="68.3" lengthAdjust="spacingAndGlyphs">40</text>
<text x="1034.2" y="2801.0" font-size="64.5" text-anchor="middle" font-weight="normal" fill="#000" font-family="'Liberation Sans', Arial, sans-serif"  textLength="68.3" lengthAdjust="spacingAndGlyphs">40</text>
<text x="1154.5" y="93.6" font-size="64.5" text-anchor="middle" font-weight="normal" fill="#000" font-family="'Liberation Sans', Arial, sans-serif"  textLength="68.3" lengthAdjust="spacingAndGlyphs">45</text>
<text x="1154.5" y="2801.0" font-size="64.5" text-anchor="middle" font-weight="normal" fill="#000" font-family="'Liberation Sans', Arial, sans-serif"  textLength="68.3" lengthAdjust="spacingAndGlyphs">45</text>
<text x="1274.7" y="93.6" font-size="64.5" text-anchor="middle" font-weight="normal" fill="#000" font-family="'Liberation Sans', Arial, sans-serif"  textLength="68.3" lengthAdjust="spacingAndGlyphs">50</text>
<text x="1274.7" y="2801.0" font-size="64.5" text-anchor="middle" font-weight="normal" fill="#000" font-family="'Liberation Sans', Arial, sans-serif"  textLength="68.3" lengthAdjust="spacingAndGlyphs">50</text>
<text x="1395.0" y="93.6" font-size="64.5" text-anchor="middle" font-weight="normal" fill="#000" font-family="'Liberation Sans', Arial, sans-serif"  textLength="68.3" lengthAdjust="spacingAndGlyphs">55</text>
<text x="1395.0" y="2801.0" font-size="64.5" text-anchor="middle" font-weight="normal" fill="#000" font-family="'Liberation Sans', Arial, sans-serif"  textLength="68.3" lengthAdjust="spacingAndGlyphs">55</text>
<text x="1515.3" y="93.6" font-size="64.5" text-anchor="middle" font-weight="normal" fill="#000" font-family="'Liberation Sans', Arial, sans-serif"  textLength="68.3" lengthAdjust="spacingAndGlyphs">60</text>
<text x="1515.3" y="2801.0" font-size="64.5" text-anchor="middle" font-weight="normal" fill="#000" font-family="'Liberation Sans', Arial, sans-serif"  textLength="68.3" lengthAdjust="spacingAndGlyphs">60</text>
<text x="1635.6" y="93.6" font-size="64.5" text-anchor="middle" font-weight="normal" fill="#000" font-family="'Liberation Sans', Arial, sans-serif"  textLength="68.3" lengthAdjust="spacingAndGlyphs">65</text>
<text x="1635.6" y="2801.0" font-size="64.5" text-anchor="middle" font-weight="normal" fill="#000" font-family="'Liberation Sans', Arial, sans-serif"  textLength="68.3" lengthAdjust="spacingAndGlyphs">65</text>
<text x="1755.9" y="93.6" font-size="64.5" text-anchor="middle" font-weight="normal" fill="#000" font-family="'Liberation Sans', Arial, sans-serif"  textLength="68.3" lengthAdjust="spacingAndGlyphs">70</text>
<text x="1755.9" y="2801.0" font-size="64.5" text-anchor="middle" font-weight="normal" fill="#000" font-family="'Liberation Sans', Arial, sans-serif"  textLength="68.3" lengthAdjust="spacingAndGlyphs">70</text>
<text x="1876.1" y="93.6" font-size="64.5" text-anchor="middle" font-weight="normal" fill="#000" font-family="'Liberation Sans', Arial, sans-serif"  textLength="68.3" lengthAdjust="spacingAndGlyphs">75</text>
<text x="1876.1" y="2801.0" font-size="64.5" text-anchor="middle" font-weight="normal" fill="#000" font-family="'Liberation Sans', Arial, sans-serif"  textLength="68.3" lengthAdjust="spacingAndGlyphs">75</text>
<text x="1996.4" y="93.6" font-size="64.5" text-anchor="middle" font-weight="normal" fill="#000" font-family="'Liberation Sans', Arial, sans-serif"  textLength="68.3" lengthAdjust="spacingAndGlyphs">80</text>
<text x="1996.4" y="2801.0" font-size="64.5" text-anchor="middle" font-weight="normal" fill="#000" font-family="'Liberation Sans', Arial, sans-serif"  textLength="68.3" lengthAdjust="spacingAndGlyphs">80</text>
<text x="1154.3" y="2908.0" font-size="63.5" text-anchor="middle" font-weight="normal" fill="#000" font-family="'Liberation Sans', Arial, sans-serif"  textLength="323.4" lengthAdjust="spacingAndGlyphs">2θ (degree)</text>
<text x="246.6" y="202.0" font-size="62.5" text-anchor="end" font-weight="normal" fill="#000" font-family="'Liberation Sans', Arial, sans-serif" textLength="181.6" lengthAdjust="spacingAndGlyphs">24,400</text>
<text x="287.6" y="482.0" font-size="61.0" text-anchor="end" font-weight="normal" fill="#000" font-family="'Liberation Sans', Arial, sans-serif" textLength="181.6" lengthAdjust="spacingAndGlyphs">18,300</text>
<text x="295.1" y="805.2" font-size="60.0" text-anchor="end" font-weight="normal" fill="#000" font-family="'Liberation Sans', Arial, sans-serif" textLength="181.6" lengthAdjust="spacingAndGlyphs">12,200</text>
<text x="275.4" y="1127.9" font-size="65.0" text-anchor="end" font-weight="normal" fill="#000" font-family="'Liberation Sans', Arial, sans-serif"  textLength="141.7" lengthAdjust="spacingAndGlyphs">6100</text>
<text x="262.6" y="1487.7" font-size="61.5" text-anchor="end" font-weight="normal" fill="#000" font-family="'Liberation Sans', Arial, sans-serif" textLength="181.6" lengthAdjust="spacingAndGlyphs">19,200</text>
<text x="260.1" y="1782.0" font-size="59.5" text-anchor="end" font-weight="normal" fill="#000" font-family="'Liberation Sans', Arial, sans-serif" textLength="181.6" lengthAdjust="spacingAndGlyphs">14,400</text>
<text x="276.3" y="2100.0" font-size="71.2" text-anchor="end" font-weight="normal" fill="#000" font-family="'Liberation Sans', Arial, sans-serif"  textLength="158.4" lengthAdjust="spacingAndGlyphs">9600</text>
<text x="276.3" y="2419.0" font-size="71.2" text-anchor="end" font-weight="normal" fill="#000" font-family="'Liberation Sans', Arial, sans-serif"  textLength="158.4" lengthAdjust="spacingAndGlyphs">4800</text>
<text x="277.2" y="2738.0" font-size="71.2" text-anchor="end" font-weight="normal" fill="#000" font-family="'Liberation Sans', Arial, sans-serif"  textLength="39.6" lengthAdjust="spacingAndGlyphs">0</text>
<text transform="translate(95.8,1025.6) rotate(-90)" font-size="65.0" fill="#000" font-family="'Liberation Sans', Arial, sans-serif"  textLength="400.3" lengthAdjust="spacingAndGlyphs">Intensity (a.u.)</text>
<text transform="translate(94.0,2370.2) rotate(-90)" font-size="65.0" fill="#000" font-family="'Liberation Sans', Arial, sans-serif"  textLength="400.3" lengthAdjust="spacingAndGlyphs">Intensity (a.u.)</text>
<text x="317.4" y="212.0" font-size="66.6" text-anchor="start" font-weight="bold" fill="#ff0000" font-family="'Liberation Sans', Arial, sans-serif" stroke-width="0.5" textLength="295.3" lengthAdjust="spacingAndGlyphs">PNPs_CE</text>
<text x="319.6" y="1501.6" font-size="67.3" text-anchor="start" font-weight="bold" fill="#000" font-family="'Liberation Sans', Arial, sans-serif" stroke-width="0.5" textLength="347.2" lengthAdjust="spacingAndGlyphs">PNPs_PPE</text>
<text transform="translate(717.4,883.8) rotate(-90)" font-size="57.0" fill="#000" font-family="'Liberation Sans', Arial, sans-serif" stroke="#fff" stroke-width="0.8" textLength="289.5" lengthAdjust="spacingAndGlyphs">nHAP (002)</text>
<text transform="translate(756.3,1155.3) rotate(-90)" font-size="57.0" fill="#000" font-family="'Liberation Sans', Arial, sans-serif" stroke="#fff" stroke-width="0.8" textLength="289.5" lengthAdjust="spacingAndGlyphs">nHAP (102)</text>
<text transform="translate(802.3,1161.8) rotate(-90)" font-size="57.0" fill="#000" font-family="'Liberation Sans', Arial, sans-serif" stroke="#fff" stroke-width="0.8" textLength="289.5" lengthAdjust="spacingAndGlyphs">nHAP (210)</text>
<text transform="translate(841.2,596.3) rotate(-90)" font-size="57.0" fill="#000" font-family="'Liberation Sans', Arial, sans-serif" stroke="#fff" stroke-width="0.8" textLength="289.5" lengthAdjust="spacingAndGlyphs">nHAP (211)</text>
<text transform="translate(900.6,778.0) rotate(-90)" font-size="57.0" fill="#000" font-family="'Liberation Sans', Arial, sans-serif" stroke="#fff" stroke-width="0.8" textLength="289.5" lengthAdjust="spacingAndGlyphs">nHAP (300)</text>
<text transform="translate(917.2,1102.1) rotate(-90)" font-size="57.0" fill="#000" font-family="'Liberation Sans', Arial, sans-serif" stroke="#fff" stroke-width="0.8" textLength="289.5" lengthAdjust="spacingAndGlyphs">nHAP (202)</text>
<text transform="translate(1037.8,1159.3) rotate(-90)" font-size="57.0" fill="#000" font-family="'Liberation Sans', Arial, sans-serif" stroke="#fff" stroke-width="0.8" textLength="289.5" lengthAdjust="spacingAndGlyphs">nHAP (130)</text>
<text transform="translate(1093.8,1253.8) rotate(-90)" font-size="57.0" fill="#000" font-family="'Liberation Sans', Arial, sans-serif" stroke="#fff" stroke-width="0.8" textLength="289.5" lengthAdjust="spacingAndGlyphs">nHAP (131)</text>
<text transform="translate(1200.5,1080.6) rotate(-90)" font-size="57.0" fill="#000" font-family="'Liberation Sans', Arial, sans-serif" stroke="#fff" stroke-width="0.8" textLength="289.5" lengthAdjust="spacingAndGlyphs">nHAP (222)</text>
<text transform="translate(1272.0,1099.6) rotate(-90)" font-size="57.0" fill="#000" font-family="'Liberation Sans', Arial, sans-serif" stroke="#fff" stroke-width="0.8" textLength="289.5" lengthAdjust="spacingAndGlyphs">nHAP (213)</text>
<text transform="translate(1364.3,1173.1) rotate(-90)" font-size="57.0" fill="#000" font-family="'Liberation Sans', Arial, sans-serif" stroke="#fff" stroke-width="0.8" textLength="289.5" lengthAdjust="spacingAndGlyphs">nHAP (004)</text>
<text transform="translate(1615.8,1243.8) rotate(-90)" font-size="57.0" fill="#000" font-family="'Liberation Sans', Arial, sans-serif" stroke="#fff" stroke-width="0.8" textLength="289.5" lengthAdjust="spacingAndGlyphs">nHAP (304)</text>
<text transform="translate(707.7,2211.3) rotate(-90)" font-size="57.0" fill="#000" font-family="'Liberation Sans', Arial, sans-serif" stroke="#fff" stroke-width="0.8" textLength="289.5" lengthAdjust="spacingAndGlyphs">nHAP (002)</text>
<text transform="translate(773.6,2267.3) rotate(-90)" font-size="57.0" fill="#000" font-family="'Liberation Sans', Arial, sans-serif" stroke="#fff" stroke-width="0.8" textLength="289.5" lengthAdjust="spacingAndGlyphs">nHAP (102)</text>
<text transform="translate(852.0,2276.8) rotate(-90)" font-size="57.0" fill="#000" font-family="'Liberation Sans', Arial, sans-serif" stroke="#fff" stroke-width="0.8" textLength="289.5" lengthAdjust="spacingAndGlyphs">nHAP (211)</text>
<text transform="translate(828.0,1980.8) rotate(-90)" font-size="57.0" fill="#000" font-family="'Liberation Sans', Arial, sans-serif" stroke="#fff" stroke-width="0.8" textLength="289.5" lengthAdjust="spacingAndGlyphs">nHAP (210)</text>
<text transform="translate(897.8,2009.3) rotate(-90)" font-size="57.0" fill="#000" font-family="'Liberation Sans', Arial, sans-serif" stroke="#fff" stroke-width="0.8" textLength="289.5" lengthAdjust="spacingAndGlyphs">nHAP (300)</text>
<text transform="translate(921.0,2325.8) rotate(-90)" font-size="57.0" fill="#000" font-family="'Liberation Sans', Arial, sans-serif" stroke="#fff" stroke-width="0.8" textLength="289.5" lengthAdjust="spacingAndGlyphs">nHAP (202)</text>
<text transform="translate(1045.4,2376.8) rotate(-90)" font-size="57.0" fill="#000" font-family="'Liberation Sans', Arial, sans-serif" stroke="#fff" stroke-width="0.8" textLength="289.5" lengthAdjust="spacingAndGlyphs">nHAP (130)</text>
<text transform="translate(1108.8,2382.8) rotate(-90)" font-size="57.0" fill="#000" font-family="'Liberation Sans', Arial, sans-serif" stroke="#fff" stroke-width="0.8" textLength="289.5" lengthAdjust="spacingAndGlyphs">nHAP (131)</text>
<text transform="translate(1224.5,2397.8) rotate(-90)" font-size="57.0" fill="#000" font-family="'Liberation Sans', Arial, sans-serif" stroke="#fff" stroke-width="0.8" textLength="289.5" lengthAdjust="spacingAndGlyphs">nHAP (222)</text>
<text transform="translate(1281.0,2425.8) rotate(-90)" font-size="57.0" fill="#000" font-family="'Liberation Sans', Arial, sans-serif" stroke="#fff" stroke-width="0.8" textLength="289.5" lengthAdjust="spacingAndGlyphs">nHAP (213)</text>
<text transform="translate(1386.8,2439.5) rotate(-90)" font-size="57.0" fill="#000" font-family="'Liberation Sans', Arial, sans-serif" stroke="#fff" stroke-width="0.8" textLength="289.5" lengthAdjust="spacingAndGlyphs">nHAP (004)</text>
<text transform="translate(1635.4,2510.8) rotate(-90)" font-size="57.0" fill="#000" font-family="'Liberation Sans', Arial, sans-serif" stroke="#fff" stroke-width="0.8" textLength="289.5" lengthAdjust="spacingAndGlyphs">nHAP (304)</text>
</g>
</svg>
</body></html>
